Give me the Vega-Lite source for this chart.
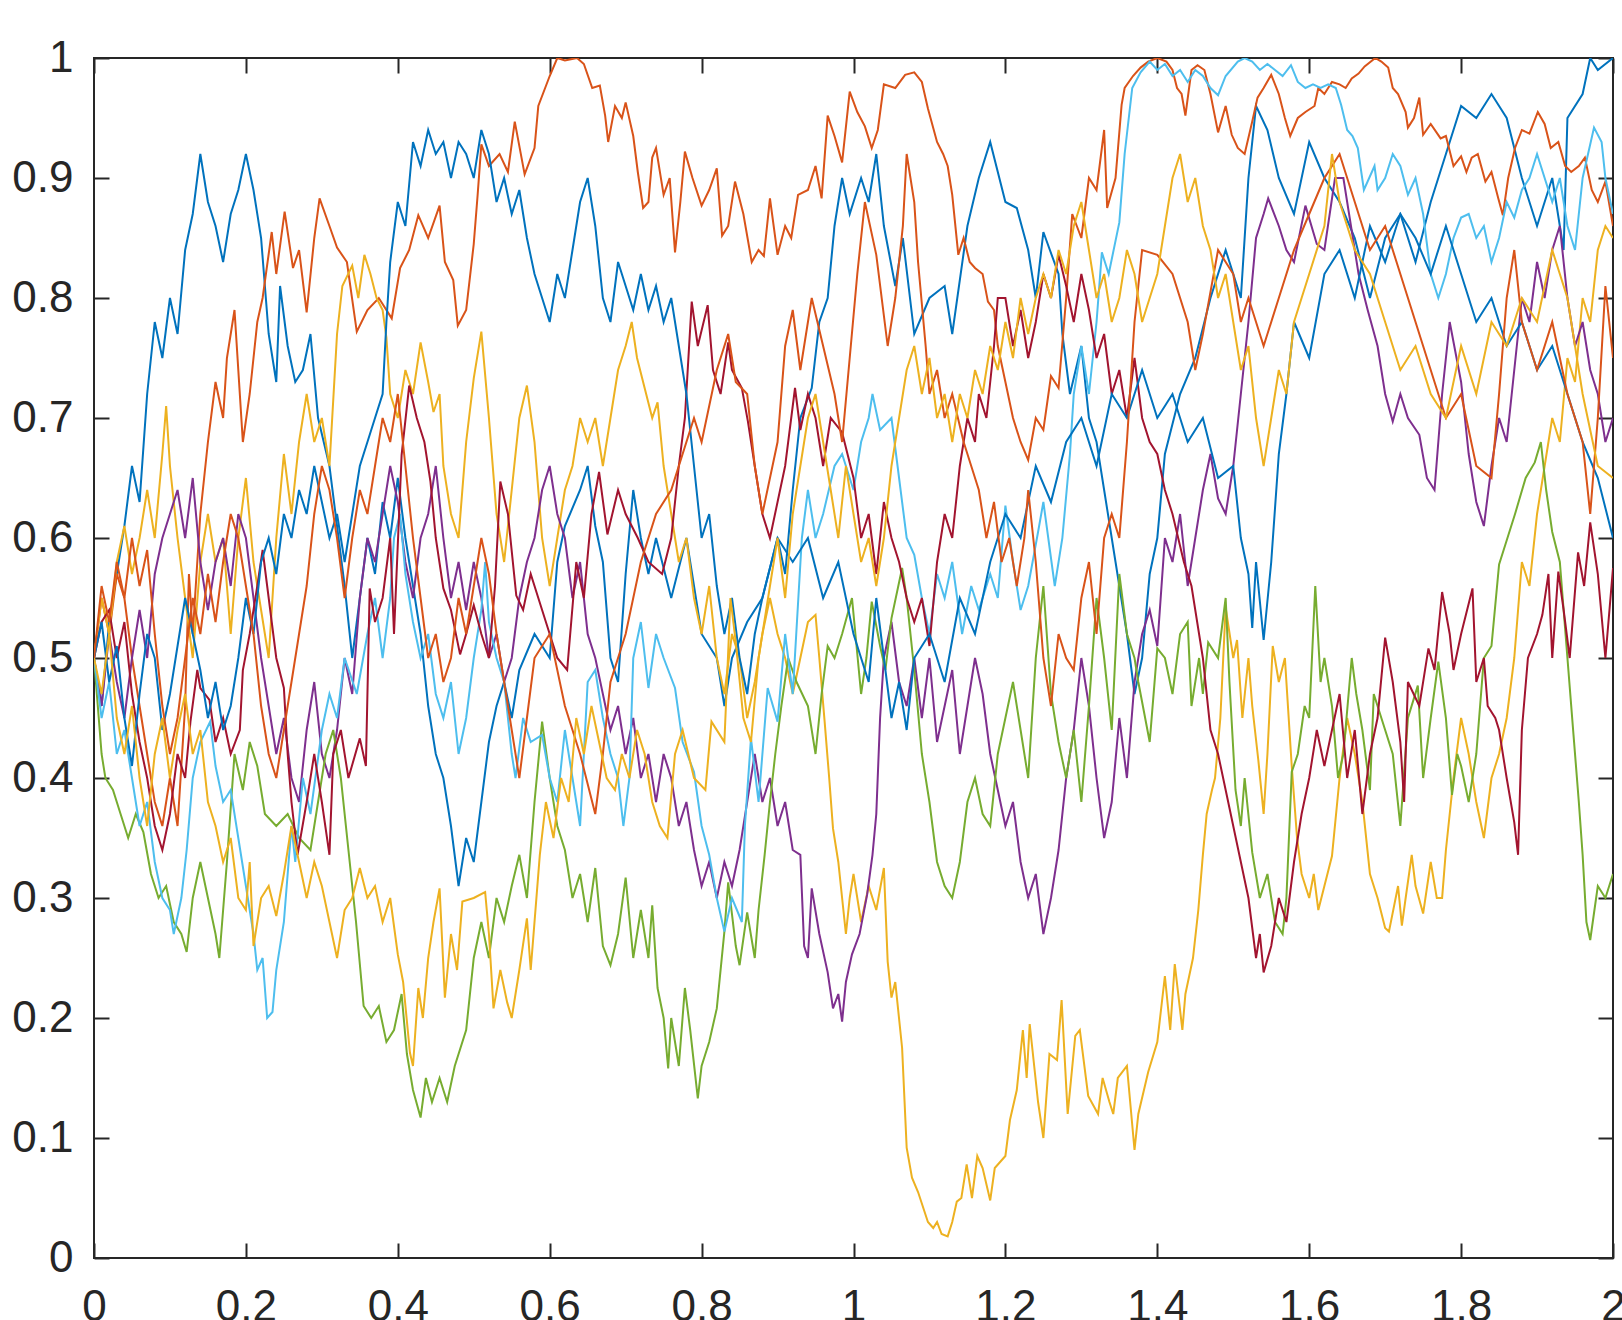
{
"$schema":"https://vega.github.io/schema/vega-lite/v6.json",
"width":1519,"height":1200,
"autosize":{"type":"none"},
"padding":{"left":94,"top":58,"right":9,"bottom":62},
"background":"white",
"config":{"view":{"stroke":"#262626","strokeWidth":2}},
"datasets":{"walks":[
{"k":1,"x":0,"y":0.5},{"k":1,"x":0.01,"y":0.46},{"k":1,"x":0.02,"y":0.53},{"k":1,"x":0.03,"y":0.57},{"k":1,"x":0.04,"y":0.61},{"k":1,"x":0.05,"y":0.66},{"k":1,"x":0.06,"y":0.63},{"k":1,"x":0.07,"y":0.72},{"k":1,"x":0.08,"y":0.78},{"k":1,"x":0.09,"y":0.75},{"k":1,"x":0.1,"y":0.8},{"k":1,"x":0.11,"y":0.77},{"k":1,"x":0.12,"y":0.84},{"k":1,"x":0.13,"y":0.87},{"k":1,"x":0.14,"y":0.92},{"k":1,"x":0.15,"y":0.88},{"k":1,"x":0.16,"y":0.86},{"k":1,"x":0.17,"y":0.83},{"k":1,"x":0.18,"y":0.87},{"k":1,"x":0.19,"y":0.89},{"k":1,"x":0.2,"y":0.92},{"k":1,"x":0.21,"y":0.89},{"k":1,"x":0.22,"y":0.85},{"k":1,"x":0.23,"y":0.77},{"k":1,"x":0.24,"y":0.73},{"k":1,"x":0.245,"y":0.81},{"k":1,"x":0.255,"y":0.76},{"k":1,"x":0.265,"y":0.73},{"k":1,"x":0.275,"y":0.74},{"k":1,"x":0.285,"y":0.77},{"k":1,"x":0.295,"y":0.7},{"k":1,"x":0.31,"y":0.66},{"k":1,"x":0.32,"y":0.61},{"k":1,"x":0.33,"y":0.56},{"k":1,"x":0.34,"y":0.5},{"k":1,"x":0.35,"y":0.55},{"k":1,"x":0.36,"y":0.6},{"k":1,"x":0.37,"y":0.57},{"k":1,"x":0.38,"y":0.63},{"k":1,"x":0.39,"y":0.6},{"k":1,"x":0.4,"y":0.65},{"k":1,"x":0.41,"y":0.6},{"k":1,"x":0.42,"y":0.56},{"k":1,"x":0.43,"y":0.52},{"k":1,"x":0.44,"y":0.46},{"k":1,"x":0.45,"y":0.42},{"k":1,"x":0.46,"y":0.4},{"k":1,"x":0.47,"y":0.36},{"k":1,"x":0.48,"y":0.31},{"k":1,"x":0.49,"y":0.35},{"k":1,"x":0.5,"y":0.33},{"k":1,"x":0.51,"y":0.38},{"k":1,"x":0.52,"y":0.43},{"k":1,"x":0.53,"y":0.46},{"k":1,"x":0.54,"y":0.48},{"k":1,"x":0.55,"y":0.45},{"k":1,"x":0.56,"y":0.49},{"k":1,"x":0.58,"y":0.52},{"k":1,"x":0.6,"y":0.5},{"k":1,"x":0.61,"y":0.58},{"k":1,"x":0.62,"y":0.61},{"k":1,"x":0.64,"y":0.64},{"k":1,"x":0.65,"y":0.66},{"k":1,"x":0.66,"y":0.61},{"k":1,"x":0.67,"y":0.58},{"k":1,"x":0.68,"y":0.5},{"k":1,"x":0.69,"y":0.48},{"k":1,"x":0.7,"y":0.57},{"k":1,"x":0.71,"y":0.64},{"k":1,"x":0.72,"y":0.6},{"k":1,"x":0.73,"y":0.57},{"k":1,"x":0.74,"y":0.6},{"k":1,"x":0.76,"y":0.55},{"k":1,"x":0.78,"y":0.6},{"k":1,"x":0.8,"y":0.52},{"k":1,"x":0.82,"y":0.5},{"k":1,"x":0.83,"y":0.46},{"k":1,"x":0.84,"y":0.5},{"k":1,"x":0.86,"y":0.53},{"k":1,"x":0.88,"y":0.55},{"k":1,"x":0.9,"y":0.6},{"k":1,"x":0.91,"y":0.57},{"k":1,"x":0.92,"y":0.64},{"k":1,"x":0.93,"y":0.7},{"k":1,"x":0.945,"y":0.725},{"k":1,"x":0.955,"y":0.78},{"k":1,"x":0.966,"y":0.8},{"k":1,"x":0.975,"y":0.86},{"k":1,"x":0.985,"y":0.9},{"k":1,"x":0.995,"y":0.87},{"k":1,"x":1.01,"y":0.9},{"k":1,"x":1.02,"y":0.88},{"k":1,"x":1.03,"y":0.92},{"k":1,"x":1.04,"y":0.86},{"k":1,"x":1.055,"y":0.81},{"k":1,"x":1.065,"y":0.85},{"k":1,"x":1.08,"y":0.77},{"k":1,"x":1.1,"y":0.8},{"k":1,"x":1.12,"y":0.81},{"k":1,"x":1.13,"y":0.77},{"k":1,"x":1.15,"y":0.86},{"k":1,"x":1.165,"y":0.9},{"k":1,"x":1.18,"y":0.93},{"k":1,"x":1.2,"y":0.88},{"k":1,"x":1.215,"y":0.875},{"k":1,"x":1.23,"y":0.84},{"k":1,"x":1.24,"y":0.8},{"k":1,"x":1.25,"y":0.855},{"k":1,"x":1.27,"y":0.82},{"k":1,"x":1.275,"y":0.77},{"k":1,"x":1.285,"y":0.72},{"k":1,"x":1.3,"y":0.76},{"k":1,"x":1.31,"y":0.7},{"k":1,"x":1.32,"y":0.68},{"k":1,"x":1.33,"y":0.64},{"k":1,"x":1.345,"y":0.58},{"k":1,"x":1.36,"y":0.52},{"k":1,"x":1.37,"y":0.47},{"k":1,"x":1.38,"y":0.5},{"k":1,"x":1.39,"y":0.57},{"k":1,"x":1.4,"y":0.6},{"k":1,"x":1.41,"y":0.67},{"k":1,"x":1.43,"y":0.72},{"k":1,"x":1.45,"y":0.75},{"k":1,"x":1.47,"y":0.8},{"k":1,"x":1.49,"y":0.84},{"k":1,"x":1.51,"y":0.8},{"k":1,"x":1.52,"y":0.9},{"k":1,"x":1.53,"y":0.96},{"k":1,"x":1.545,"y":0.94},{"k":1,"x":1.56,"y":0.9},{"k":1,"x":1.58,"y":0.87},{"k":1,"x":1.6,"y":0.93},{"k":1,"x":1.62,"y":0.9},{"k":1,"x":1.64,"y":0.88},{"k":1,"x":1.66,"y":0.85},{"k":1,"x":1.68,"y":0.8},{"k":1,"x":1.7,"y":0.85},{"k":1,"x":1.72,"y":0.87},{"k":1,"x":1.74,"y":0.83},{"k":1,"x":1.76,"y":0.88},{"k":1,"x":1.78,"y":0.92},{"k":1,"x":1.8,"y":0.96},{"k":1,"x":1.82,"y":0.95},{"k":1,"x":1.84,"y":0.97},{"k":1,"x":1.86,"y":0.95},{"k":1,"x":1.88,"y":0.9},{"k":1,"x":1.9,"y":0.86},{"k":1,"x":1.92,"y":0.9},{"k":1,"x":1.935,"y":0.84},{"k":1,"x":1.94,"y":0.95},{"k":1,"x":1.96,"y":0.97},{"k":1,"x":1.97,"y":1.0},{"k":1,"x":1.98,"y":0.99},{"k":1,"x":2.0,"y":1.0},
{"k":2,"x":0,"y":0.5},{"k":2,"x":0.01,"y":0.55},{"k":2,"x":0.02,"y":0.52},{"k":2,"x":0.03,"y":0.57},{"k":2,"x":0.04,"y":0.55},{"k":2,"x":0.05,"y":0.5},{"k":2,"x":0.06,"y":0.46},{"k":2,"x":0.07,"y":0.42},{"k":2,"x":0.08,"y":0.38},{"k":2,"x":0.09,"y":0.36},{"k":2,"x":0.1,"y":0.4},{"k":2,"x":0.11,"y":0.36},{"k":2,"x":0.12,"y":0.46},{"k":2,"x":0.125,"y":0.57},{"k":2,"x":0.13,"y":0.52},{"k":2,"x":0.14,"y":0.62},{"k":2,"x":0.15,"y":0.68},{"k":2,"x":0.16,"y":0.73},{"k":2,"x":0.17,"y":0.7},{"k":2,"x":0.175,"y":0.75},{"k":2,"x":0.185,"y":0.79},{"k":2,"x":0.196,"y":0.68},{"k":2,"x":0.205,"y":0.72},{"k":2,"x":0.215,"y":0.78},{"k":2,"x":0.222,"y":0.8},{"k":2,"x":0.234,"y":0.855},{"k":2,"x":0.24,"y":0.82},{"k":2,"x":0.251,"y":0.872},{"k":2,"x":0.262,"y":0.825},{"k":2,"x":0.27,"y":0.84},{"k":2,"x":0.28,"y":0.788},{"k":2,"x":0.29,"y":0.85},{"k":2,"x":0.297,"y":0.883},{"k":2,"x":0.31,"y":0.86},{"k":2,"x":0.32,"y":0.842},{"k":2,"x":0.333,"y":0.83},{"k":2,"x":0.346,"y":0.772},{"k":2,"x":0.36,"y":0.79},{"k":2,"x":0.375,"y":0.8},{"k":2,"x":0.392,"y":0.783},{"k":2,"x":0.403,"y":0.825},{"k":2,"x":0.415,"y":0.84},{"k":2,"x":0.427,"y":0.869},{"k":2,"x":0.44,"y":0.85},{"k":2,"x":0.455,"y":0.877},{"k":2,"x":0.462,"y":0.83},{"k":2,"x":0.473,"y":0.815},{"k":2,"x":0.479,"y":0.777},{"k":2,"x":0.49,"y":0.79},{"k":2,"x":0.5,"y":0.845},{"k":2,"x":0.505,"y":0.885},{"k":2,"x":0.51,"y":0.928},{"k":2,"x":0.52,"y":0.91},{"k":2,"x":0.534,"y":0.92},{"k":2,"x":0.545,"y":0.905},{"k":2,"x":0.554,"y":0.947},{"k":2,"x":0.567,"y":0.903},{"k":2,"x":0.58,"y":0.925},{"k":2,"x":0.585,"y":0.96},{"k":2,"x":0.6,"y":0.985},{"k":2,"x":0.61,"y":1.0},{"k":2,"x":0.62,"y":0.998},{"k":2,"x":0.636,"y":1.0},{"k":2,"x":0.645,"y":0.995},{"k":2,"x":0.656,"y":0.975},{"k":2,"x":0.666,"y":0.977},{"k":2,"x":0.673,"y":0.952},{"k":2,"x":0.677,"y":0.93},{"k":2,"x":0.686,"y":0.96},{"k":2,"x":0.695,"y":0.95},{"k":2,"x":0.7,"y":0.963},{"k":2,"x":0.71,"y":0.935},{"k":2,"x":0.716,"y":0.905},{"k":2,"x":0.723,"y":0.875},{"k":2,"x":0.73,"y":0.88},{"k":2,"x":0.735,"y":0.917},{"k":2,"x":0.74,"y":0.925},{"k":2,"x":0.75,"y":0.886},{"k":2,"x":0.758,"y":0.9},{"k":2,"x":0.765,"y":0.838},{"k":2,"x":0.772,"y":0.88},{"k":2,"x":0.778,"y":0.922},{"k":2,"x":0.788,"y":0.9},{"k":2,"x":0.8,"y":0.877},{"k":2,"x":0.81,"y":0.89},{"k":2,"x":0.82,"y":0.908},{"k":2,"x":0.827,"y":0.852},{"k":2,"x":0.835,"y":0.86},{"k":2,"x":0.844,"y":0.897},{"k":2,"x":0.855,"y":0.87},{"k":2,"x":0.866,"y":0.83},{"k":2,"x":0.875,"y":0.84},{"k":2,"x":0.882,"y":0.835},{"k":2,"x":0.89,"y":0.883},{"k":2,"x":0.9,"y":0.836},{"k":2,"x":0.91,"y":0.86},{"k":2,"x":0.918,"y":0.85},{"k":2,"x":0.927,"y":0.886},{"k":2,"x":0.94,"y":0.89},{"k":2,"x":0.95,"y":0.91},{"k":2,"x":0.958,"y":0.883},{"k":2,"x":0.966,"y":0.952},{"k":2,"x":0.975,"y":0.935},{"k":2,"x":0.985,"y":0.913},{"k":2,"x":0.995,"y":0.972},{"k":2,"x":1.005,"y":0.955},{"k":2,"x":1.015,"y":0.943},{"k":2,"x":1.024,"y":0.925},{"k":2,"x":1.032,"y":0.94},{"k":2,"x":1.04,"y":0.978},{"k":2,"x":1.055,"y":0.975},{"k":2,"x":1.068,"y":0.986},{"k":2,"x":1.08,"y":0.988},{"k":2,"x":1.09,"y":0.98},{"k":2,"x":1.098,"y":0.958},{"k":2,"x":1.11,"y":0.93},{"k":2,"x":1.118,"y":0.92},{"k":2,"x":1.124,"y":0.91},{"k":2,"x":1.13,"y":0.886},{"k":2,"x":1.138,"y":0.836},{"k":2,"x":1.145,"y":0.85},{"k":2,"x":1.153,"y":0.83},{"k":2,"x":1.16,"y":0.825},{"k":2,"x":1.17,"y":0.82},{"k":2,"x":1.177,"y":0.797},{"k":2,"x":1.185,"y":0.79},{"k":2,"x":1.19,"y":0.76},{"k":2,"x":1.2,"y":0.73},{"k":2,"x":1.21,"y":0.7},{"k":2,"x":1.22,"y":0.68},{"k":2,"x":1.23,"y":0.665},{"k":2,"x":1.24,"y":0.7},{"k":2,"x":1.25,"y":0.69},{"k":2,"x":1.26,"y":0.735},{"k":2,"x":1.27,"y":0.725},{"k":2,"x":1.28,"y":0.8},{"k":2,"x":1.288,"y":0.87},{"k":2,"x":1.3,"y":0.85},{"k":2,"x":1.31,"y":0.9},{"k":2,"x":1.32,"y":0.89},{"k":2,"x":1.33,"y":0.94},{"k":2,"x":1.334,"y":0.875},{"k":2,"x":1.345,"y":0.9},{"k":2,"x":1.353,"y":0.961},{"k":2,"x":1.357,"y":0.975},{"k":2,"x":1.368,"y":0.985},{"k":2,"x":1.378,"y":0.992},{"k":2,"x":1.388,"y":0.997},{"k":2,"x":1.4,"y":1.0},{"k":2,"x":1.412,"y":0.997},{"k":2,"x":1.42,"y":0.99},{"k":2,"x":1.426,"y":0.975},{"k":2,"x":1.432,"y":0.97},{"k":2,"x":1.437,"y":0.952},{"k":2,"x":1.445,"y":0.99},{"k":2,"x":1.453,"y":0.994},{"k":2,"x":1.462,"y":0.99},{"k":2,"x":1.47,"y":0.97},{"k":2,"x":1.48,"y":0.938},{"k":2,"x":1.49,"y":0.96},{"k":2,"x":1.498,"y":0.936},{"k":2,"x":1.506,"y":0.925},{"k":2,"x":1.515,"y":0.92},{"k":2,"x":1.525,"y":0.947},{"k":2,"x":1.532,"y":0.967},{"k":2,"x":1.54,"y":0.975},{"k":2,"x":1.55,"y":0.986},{"k":2,"x":1.56,"y":0.97},{"k":2,"x":1.568,"y":0.95},{"k":2,"x":1.575,"y":0.935},{"k":2,"x":1.585,"y":0.95},{"k":2,"x":1.595,"y":0.955},{"k":2,"x":1.607,"y":0.96},{"k":2,"x":1.612,"y":0.975},{"k":2,"x":1.62,"y":0.97},{"k":2,"x":1.63,"y":0.98},{"k":2,"x":1.64,"y":0.978},{"k":2,"x":1.648,"y":0.975},{"k":2,"x":1.656,"y":0.983},{"k":2,"x":1.665,"y":0.987},{"k":2,"x":1.673,"y":0.993},{"k":2,"x":1.687,"y":1.0},{"k":2,"x":1.695,"y":0.997},{"k":2,"x":1.704,"y":0.992},{"k":2,"x":1.71,"y":0.975},{"k":2,"x":1.717,"y":0.97},{"k":2,"x":1.727,"y":0.955},{"k":2,"x":1.73,"y":0.942},{"k":2,"x":1.738,"y":0.95},{"k":2,"x":1.745,"y":0.967},{"k":2,"x":1.75,"y":0.936},{"k":2,"x":1.76,"y":0.945},{"k":2,"x":1.773,"y":0.933},{"k":2,"x":1.78,"y":0.935},{"k":2,"x":1.79,"y":0.91},{"k":2,"x":1.8,"y":0.918},{"k":2,"x":1.807,"y":0.905},{"k":2,"x":1.814,"y":0.917},{"k":2,"x":1.822,"y":0.92},{"k":2,"x":1.832,"y":0.897},{"k":2,"x":1.84,"y":0.905},{"k":2,"x":1.849,"y":0.883},{"k":2,"x":1.855,"y":0.869},{"k":2,"x":1.862,"y":0.9},{"k":2,"x":1.871,"y":0.925},{"k":2,"x":1.88,"y":0.94},{"k":2,"x":1.89,"y":0.937},{"k":2,"x":1.901,"y":0.955},{"k":2,"x":1.91,"y":0.945},{"k":2,"x":1.918,"y":0.925},{"k":2,"x":1.928,"y":0.93},{"k":2,"x":1.937,"y":0.91},{"k":2,"x":1.945,"y":0.905},{"k":2,"x":1.955,"y":0.91},{"k":2,"x":1.963,"y":0.917},{"k":2,"x":1.972,"y":0.89},{"k":2,"x":1.98,"y":0.88},{"k":2,"x":1.99,"y":0.897},{"k":2,"x":2.0,"y":0.86},
{"k":3,"x":0,"y":0.5},{"k":3,"x":0.01,"y":0.55},{"k":3,"x":0.02,"y":0.52},{"k":3,"x":0.03,"y":0.58},{"k":3,"x":0.04,"y":0.61},{"k":3,"x":0.05,"y":0.57},{"k":3,"x":0.06,"y":0.6},{"k":3,"x":0.07,"y":0.64},{"k":3,"x":0.08,"y":0.6},{"k":3,"x":0.09,"y":0.67},{"k":3,"x":0.095,"y":0.71},{"k":3,"x":0.1,"y":0.66},{"k":3,"x":0.11,"y":0.6},{"k":3,"x":0.12,"y":0.55},{"k":3,"x":0.13,"y":0.5},{"k":3,"x":0.14,"y":0.58},{"k":3,"x":0.15,"y":0.62},{"k":3,"x":0.16,"y":0.58},{"k":3,"x":0.17,"y":0.6},{"k":3,"x":0.18,"y":0.52},{"k":3,"x":0.19,"y":0.6},{"k":3,"x":0.2,"y":0.65},{"k":3,"x":0.21,"y":0.58},{"k":3,"x":0.22,"y":0.54},{"k":3,"x":0.23,"y":0.5},{"k":3,"x":0.24,"y":0.6},{"k":3,"x":0.25,"y":0.67},{"k":3,"x":0.26,"y":0.62},{"k":3,"x":0.27,"y":0.68},{"k":3,"x":0.28,"y":0.72},{"k":3,"x":0.29,"y":0.68},{"k":3,"x":0.3,"y":0.7},{"k":3,"x":0.31,"y":0.66},{"k":3,"x":0.32,"y":0.77},{"k":3,"x":0.327,"y":0.81},{"k":3,"x":0.34,"y":0.827},{"k":3,"x":0.348,"y":0.8},{"k":3,"x":0.356,"y":0.836},{"k":3,"x":0.364,"y":0.82},{"k":3,"x":0.372,"y":0.8},{"k":3,"x":0.38,"y":0.79},{"k":3,"x":0.385,"y":0.767},{"k":3,"x":0.39,"y":0.72},{"k":3,"x":0.4,"y":0.7},{"k":3,"x":0.41,"y":0.74},{"k":3,"x":0.42,"y":0.72},{"k":3,"x":0.43,"y":0.763},{"k":3,"x":0.44,"y":0.73},{"k":3,"x":0.447,"y":0.705},{"k":3,"x":0.455,"y":0.72},{"k":3,"x":0.46,"y":0.66},{"k":3,"x":0.47,"y":0.62},{"k":3,"x":0.48,"y":0.6},{"k":3,"x":0.49,"y":0.68},{"k":3,"x":0.5,"y":0.733},{"k":3,"x":0.51,"y":0.772},{"k":3,"x":0.52,"y":0.7},{"k":3,"x":0.53,"y":0.62},{"k":3,"x":0.54,"y":0.58},{"k":3,"x":0.55,"y":0.64},{"k":3,"x":0.56,"y":0.7},{"k":3,"x":0.57,"y":0.727},{"k":3,"x":0.58,"y":0.68},{"k":3,"x":0.59,"y":0.6},{"k":3,"x":0.6,"y":0.56},{"k":3,"x":0.61,"y":0.6},{"k":3,"x":0.62,"y":0.64},{"k":3,"x":0.63,"y":0.66},{"k":3,"x":0.64,"y":0.7},{"k":3,"x":0.65,"y":0.68},{"k":3,"x":0.66,"y":0.7},{"k":3,"x":0.67,"y":0.66},{"k":3,"x":0.68,"y":0.7},{"k":3,"x":0.69,"y":0.74},{"k":3,"x":0.7,"y":0.76},{"k":3,"x":0.708,"y":0.78},{"k":3,"x":0.715,"y":0.75},{"k":3,"x":0.725,"y":0.725},{"k":3,"x":0.735,"y":0.7},{"k":3,"x":0.742,"y":0.713},{"k":3,"x":0.75,"y":0.66},{"k":3,"x":0.76,"y":0.62},{"k":3,"x":0.77,"y":0.58},{"k":3,"x":0.78,"y":0.6},{"k":3,"x":0.79,"y":0.55},{"k":3,"x":0.8,"y":0.52},{"k":3,"x":0.81,"y":0.56},{"k":3,"x":0.82,"y":0.5},{"k":3,"x":0.83,"y":0.47},{"k":3,"x":0.84,"y":0.52},{"k":3,"x":0.85,"y":0.5},{"k":3,"x":0.86,"y":0.45},{"k":3,"x":0.87,"y":0.48},{"k":3,"x":0.88,"y":0.52},{"k":3,"x":0.89,"y":0.55},{"k":3,"x":0.9,"y":0.52},{"k":3,"x":0.91,"y":0.5},{"k":3,"x":0.92,"y":0.47},{"k":3,"x":0.93,"y":0.5},{"k":3,"x":0.94,"y":0.53},{"k":3,"x":0.95,"y":0.536},{"k":3,"x":0.955,"y":0.5},{"k":3,"x":0.962,"y":0.447},{"k":3,"x":0.968,"y":0.4},{"k":3,"x":0.973,"y":0.358},{"k":3,"x":0.98,"y":0.33},{"k":3,"x":0.985,"y":0.3},{"k":3,"x":0.99,"y":0.27},{"k":3,"x":0.995,"y":0.3},{"k":3,"x":1.0,"y":0.32},{"k":3,"x":1.01,"y":0.28},{"k":3,"x":1.02,"y":0.31},{"k":3,"x":1.03,"y":0.29},{"k":3,"x":1.04,"y":0.325},{"k":3,"x":1.045,"y":0.247},{"k":3,"x":1.05,"y":0.217},{"k":3,"x":1.055,"y":0.23},{"k":3,"x":1.064,"y":0.175},{"k":3,"x":1.07,"y":0.092},{"k":3,"x":1.077,"y":0.067},{"k":3,"x":1.085,"y":0.055},{"k":3,"x":1.098,"y":0.03},{"k":3,"x":1.105,"y":0.025},{"k":3,"x":1.11,"y":0.03},{"k":3,"x":1.116,"y":0.02},{"k":3,"x":1.124,"y":0.018},{"k":3,"x":1.13,"y":0.03},{"k":3,"x":1.136,"y":0.047},{"k":3,"x":1.142,"y":0.05},{"k":3,"x":1.149,"y":0.078},{"k":3,"x":1.156,"y":0.05},{"k":3,"x":1.163,"y":0.085},{"k":3,"x":1.17,"y":0.075},{"k":3,"x":1.18,"y":0.048},{"k":3,"x":1.186,"y":0.075},{"k":3,"x":1.193,"y":0.08},{"k":3,"x":1.2,"y":0.085},{"k":3,"x":1.206,"y":0.115},{"k":3,"x":1.215,"y":0.14},{"k":3,"x":1.223,"y":0.19},{"k":3,"x":1.228,"y":0.15},{"k":3,"x":1.232,"y":0.195},{"k":3,"x":1.243,"y":0.13},{"k":3,"x":1.25,"y":0.1},{"k":3,"x":1.258,"y":0.17},{"k":3,"x":1.268,"y":0.165},{"k":3,"x":1.274,"y":0.215},{"k":3,"x":1.282,"y":0.12},{"k":3,"x":1.292,"y":0.185},{"k":3,"x":1.298,"y":0.19},{"k":3,"x":1.309,"y":0.135},{"k":3,"x":1.322,"y":0.12},{"k":3,"x":1.328,"y":0.15},{"k":3,"x":1.337,"y":0.13},{"k":3,"x":1.342,"y":0.12},{"k":3,"x":1.348,"y":0.15},{"k":3,"x":1.36,"y":0.16},{"k":3,"x":1.37,"y":0.09},{"k":3,"x":1.375,"y":0.12},{"k":3,"x":1.388,"y":0.155},{"k":3,"x":1.4,"y":0.18},{"k":3,"x":1.41,"y":0.235},{"k":3,"x":1.417,"y":0.19},{"k":3,"x":1.423,"y":0.245},{"k":3,"x":1.433,"y":0.19},{"k":3,"x":1.437,"y":0.22},{"k":3,"x":1.447,"y":0.25},{"k":3,"x":1.454,"y":0.29},{"k":3,"x":1.46,"y":0.336},{"k":3,"x":1.465,"y":0.37},{"k":3,"x":1.472,"y":0.39},{"k":3,"x":1.476,"y":0.4},{"k":3,"x":1.483,"y":0.45},{"k":3,"x":1.49,"y":0.542},{"k":3,"x":1.5,"y":0.5},{"k":3,"x":1.505,"y":0.515},{"k":3,"x":1.512,"y":0.45},{"k":3,"x":1.52,"y":0.5},{"k":3,"x":1.525,"y":0.46},{"k":3,"x":1.533,"y":0.415},{"k":3,"x":1.54,"y":0.37},{"k":3,"x":1.545,"y":0.42},{"k":3,"x":1.552,"y":0.51},{"k":3,"x":1.56,"y":0.48},{"k":3,"x":1.568,"y":0.5},{"k":3,"x":1.577,"y":0.41},{"k":3,"x":1.584,"y":0.35},{"k":3,"x":1.59,"y":0.32},{"k":3,"x":1.6,"y":0.3},{"k":3,"x":1.606,"y":0.32},{"k":3,"x":1.612,"y":0.29},{"k":3,"x":1.62,"y":0.31},{"k":3,"x":1.63,"y":0.335},{"k":3,"x":1.64,"y":0.4},{"k":3,"x":1.65,"y":0.45},{"k":3,"x":1.66,"y":0.42},{"k":3,"x":1.67,"y":0.38},{"k":3,"x":1.68,"y":0.32},{"k":3,"x":1.69,"y":0.3},{"k":3,"x":1.7,"y":0.275},{"k":3,"x":1.705,"y":0.272},{"k":3,"x":1.717,"y":0.31},{"k":3,"x":1.722,"y":0.277},{"k":3,"x":1.727,"y":0.3},{"k":3,"x":1.735,"y":0.336},{"k":3,"x":1.74,"y":0.31},{"k":3,"x":1.75,"y":0.287},{"k":3,"x":1.76,"y":0.33},{"k":3,"x":1.768,"y":0.3},{"k":3,"x":1.775,"y":0.3},{"k":3,"x":1.78,"y":0.34},{"k":3,"x":1.79,"y":0.4},{"k":3,"x":1.8,"y":0.45},{"k":3,"x":1.81,"y":0.42},{"k":3,"x":1.82,"y":0.38},{"k":3,"x":1.83,"y":0.35},{"k":3,"x":1.84,"y":0.4},{"k":3,"x":1.85,"y":0.42},{"k":3,"x":1.86,"y":0.45},{"k":3,"x":1.87,"y":0.5},{"k":3,"x":1.88,"y":0.58},{"k":3,"x":1.89,"y":0.56},{"k":3,"x":1.9,"y":0.62},{"k":3,"x":1.91,"y":0.66},{"k":3,"x":1.92,"y":0.7},{"k":3,"x":1.93,"y":0.68},{"k":3,"x":1.94,"y":0.75},{"k":3,"x":1.95,"y":0.73},{"k":3,"x":1.96,"y":0.8},{"k":3,"x":1.97,"y":0.78},{"k":3,"x":1.98,"y":0.84},{"k":3,"x":1.99,"y":0.86},{"k":3,"x":2.0,"y":0.85},
{"k":4,"x":0,"y":0.5},{"k":4,"x":0.01,"y":0.46},{"k":4,"x":0.02,"y":0.52},{"k":4,"x":0.03,"y":0.48},{"k":4,"x":0.04,"y":0.45},{"k":4,"x":0.05,"y":0.5},{"k":4,"x":0.06,"y":0.54},{"k":4,"x":0.07,"y":0.5},{"k":4,"x":0.08,"y":0.57},{"k":4,"x":0.09,"y":0.6},{"k":4,"x":0.1,"y":0.62},{"k":4,"x":0.11,"y":0.64},{"k":4,"x":0.12,"y":0.6},{"k":4,"x":0.13,"y":0.65},{"k":4,"x":0.14,"y":0.58},{"k":4,"x":0.15,"y":0.54},{"k":4,"x":0.16,"y":0.58},{"k":4,"x":0.17,"y":0.6},{"k":4,"x":0.18,"y":0.56},{"k":4,"x":0.19,"y":0.62},{"k":4,"x":0.2,"y":0.6},{"k":4,"x":0.21,"y":0.55},{"k":4,"x":0.22,"y":0.5},{"k":4,"x":0.23,"y":0.46},{"k":4,"x":0.24,"y":0.42},{"k":4,"x":0.25,"y":0.45},{"k":4,"x":0.26,"y":0.4},{"k":4,"x":0.27,"y":0.38},{"k":4,"x":0.28,"y":0.44},{"k":4,"x":0.29,"y":0.48},{"k":4,"x":0.3,"y":0.42},{"k":4,"x":0.31,"y":0.4},{"k":4,"x":0.32,"y":0.44},{"k":4,"x":0.33,"y":0.5},{"k":4,"x":0.34,"y":0.47},{"k":4,"x":0.35,"y":0.55},{"k":4,"x":0.36,"y":0.6},{"k":4,"x":0.37,"y":0.58},{"k":4,"x":0.38,"y":0.62},{"k":4,"x":0.39,"y":0.66},{"k":4,"x":0.4,"y":0.63},{"k":4,"x":0.41,"y":0.58},{"k":4,"x":0.42,"y":0.55},{"k":4,"x":0.43,"y":0.6},{"k":4,"x":0.44,"y":0.62},{"k":4,"x":0.45,"y":0.66},{"k":4,"x":0.46,"y":0.6},{"k":4,"x":0.47,"y":0.55},{"k":4,"x":0.48,"y":0.58},{"k":4,"x":0.49,"y":0.54},{"k":4,"x":0.5,"y":0.58},{"k":4,"x":0.51,"y":0.55},{"k":4,"x":0.52,"y":0.5},{"k":4,"x":0.53,"y":0.52},{"k":4,"x":0.54,"y":0.48},{"k":4,"x":0.55,"y":0.5},{"k":4,"x":0.56,"y":0.55},{"k":4,"x":0.57,"y":0.58},{"k":4,"x":0.58,"y":0.6},{"k":4,"x":0.59,"y":0.64},{"k":4,"x":0.6,"y":0.66},{"k":4,"x":0.61,"y":0.62},{"k":4,"x":0.62,"y":0.6},{"k":4,"x":0.63,"y":0.55},{"k":4,"x":0.64,"y":0.58},{"k":4,"x":0.65,"y":0.52},{"k":4,"x":0.66,"y":0.5},{"k":4,"x":0.67,"y":0.47},{"k":4,"x":0.68,"y":0.44},{"k":4,"x":0.69,"y":0.46},{"k":4,"x":0.7,"y":0.42},{"k":4,"x":0.71,"y":0.45},{"k":4,"x":0.72,"y":0.4},{"k":4,"x":0.73,"y":0.42},{"k":4,"x":0.74,"y":0.38},{"k":4,"x":0.75,"y":0.42},{"k":4,"x":0.76,"y":0.4},{"k":4,"x":0.77,"y":0.36},{"k":4,"x":0.78,"y":0.38},{"k":4,"x":0.79,"y":0.34},{"k":4,"x":0.8,"y":0.31},{"k":4,"x":0.81,"y":0.33},{"k":4,"x":0.82,"y":0.3},{"k":4,"x":0.83,"y":0.33},{"k":4,"x":0.84,"y":0.31},{"k":4,"x":0.85,"y":0.34},{"k":4,"x":0.86,"y":0.38},{"k":4,"x":0.87,"y":0.42},{"k":4,"x":0.88,"y":0.38},{"k":4,"x":0.89,"y":0.4},{"k":4,"x":0.9,"y":0.36},{"k":4,"x":0.91,"y":0.38},{"k":4,"x":0.92,"y":0.34},{"k":4,"x":0.93,"y":0.336},{"k":4,"x":0.935,"y":0.26},{"k":4,"x":0.94,"y":0.25},{"k":4,"x":0.945,"y":0.308},{"k":4,"x":0.955,"y":0.27},{"k":4,"x":0.966,"y":0.238},{"k":4,"x":0.973,"y":0.208},{"k":4,"x":0.98,"y":0.22},{"k":4,"x":0.985,"y":0.197},{"k":4,"x":0.99,"y":0.23},{"k":4,"x":0.998,"y":0.253},{"k":4,"x":1.008,"y":0.27},{"k":4,"x":1.018,"y":0.303},{"k":4,"x":1.025,"y":0.336},{"k":4,"x":1.03,"y":0.37},{"k":4,"x":1.035,"y":0.45},{"k":4,"x":1.04,"y":0.5},{"k":4,"x":1.05,"y":0.53},{"k":4,"x":1.06,"y":0.48},{"k":4,"x":1.07,"y":0.46},{"k":4,"x":1.08,"y":0.5},{"k":4,"x":1.09,"y":0.45},{"k":4,"x":1.1,"y":0.5},{"k":4,"x":1.11,"y":0.43},{"k":4,"x":1.12,"y":0.46},{"k":4,"x":1.13,"y":0.49},{"k":4,"x":1.14,"y":0.42},{"k":4,"x":1.15,"y":0.46},{"k":4,"x":1.16,"y":0.5},{"k":4,"x":1.17,"y":0.47},{"k":4,"x":1.18,"y":0.42},{"k":4,"x":1.19,"y":0.39},{"k":4,"x":1.2,"y":0.36},{"k":4,"x":1.21,"y":0.38},{"k":4,"x":1.22,"y":0.33},{"k":4,"x":1.23,"y":0.3},{"k":4,"x":1.24,"y":0.32},{"k":4,"x":1.25,"y":0.27},{"k":4,"x":1.26,"y":0.3},{"k":4,"x":1.27,"y":0.34},{"k":4,"x":1.28,"y":0.4},{"k":4,"x":1.29,"y":0.44},{"k":4,"x":1.3,"y":0.5},{"k":4,"x":1.31,"y":0.46},{"k":4,"x":1.32,"y":0.4},{"k":4,"x":1.33,"y":0.35},{"k":4,"x":1.34,"y":0.38},{"k":4,"x":1.35,"y":0.45},{"k":4,"x":1.36,"y":0.4},{"k":4,"x":1.37,"y":0.48},{"k":4,"x":1.38,"y":0.52},{"k":4,"x":1.39,"y":0.54},{"k":4,"x":1.4,"y":0.51},{"k":4,"x":1.41,"y":0.6},{"k":4,"x":1.42,"y":0.58},{"k":4,"x":1.43,"y":0.62},{"k":4,"x":1.44,"y":0.56},{"k":4,"x":1.45,"y":0.6},{"k":4,"x":1.46,"y":0.64},{"k":4,"x":1.47,"y":0.67},{"k":4,"x":1.48,"y":0.633},{"k":4,"x":1.49,"y":0.62},{"k":4,"x":1.5,"y":0.66},{"k":4,"x":1.51,"y":0.72},{"k":4,"x":1.52,"y":0.78},{"k":4,"x":1.53,"y":0.85},{"k":4,"x":1.54,"y":0.87},{"k":4,"x":1.546,"y":0.883},{"k":4,"x":1.56,"y":0.86},{"k":4,"x":1.57,"y":0.84},{"k":4,"x":1.58,"y":0.83},{"k":4,"x":1.595,"y":0.877},{"k":4,"x":1.61,"y":0.845},{"k":4,"x":1.62,"y":0.84},{"k":4,"x":1.634,"y":0.9},{"k":4,"x":1.645,"y":0.9},{"k":4,"x":1.655,"y":0.86},{"k":4,"x":1.665,"y":0.82},{"k":4,"x":1.677,"y":0.79},{"k":4,"x":1.69,"y":0.76},{"k":4,"x":1.7,"y":0.72},{"k":4,"x":1.71,"y":0.697},{"k":4,"x":1.72,"y":0.72},{"k":4,"x":1.73,"y":0.7},{"k":4,"x":1.745,"y":0.686},{"k":4,"x":1.755,"y":0.65},{"k":4,"x":1.765,"y":0.64},{"k":4,"x":1.775,"y":0.72},{"k":4,"x":1.785,"y":0.78},{"k":4,"x":1.8,"y":0.73},{"k":4,"x":1.81,"y":0.67},{"k":4,"x":1.82,"y":0.63},{"k":4,"x":1.83,"y":0.61},{"k":4,"x":1.84,"y":0.66},{"k":4,"x":1.85,"y":0.7},{"k":4,"x":1.86,"y":0.68},{"k":4,"x":1.87,"y":0.74},{"k":4,"x":1.88,"y":0.8},{"k":4,"x":1.89,"y":0.78},{"k":4,"x":1.9,"y":0.83},{"k":4,"x":1.91,"y":0.8},{"k":4,"x":1.92,"y":0.84},{"k":4,"x":1.93,"y":0.86},{"k":4,"x":1.94,"y":0.8},{"k":4,"x":1.95,"y":0.76},{"k":4,"x":1.96,"y":0.78},{"k":4,"x":1.97,"y":0.74},{"k":4,"x":1.98,"y":0.72},{"k":4,"x":1.99,"y":0.68},{"k":4,"x":2.0,"y":0.7},
{"k":5,"x":0,"y":0.5},{"k":5,"x":0.01,"y":0.42},{"k":5,"x":0.015,"y":0.4},{"k":5,"x":0.025,"y":0.39},{"k":5,"x":0.035,"y":0.37},{"k":5,"x":0.045,"y":0.35},{"k":5,"x":0.055,"y":0.37},{"k":5,"x":0.065,"y":0.355},{"k":5,"x":0.075,"y":0.32},{"k":5,"x":0.085,"y":0.3},{"k":5,"x":0.095,"y":0.31},{"k":5,"x":0.105,"y":0.28},{"k":5,"x":0.115,"y":0.27},{"k":5,"x":0.122,"y":0.255},{"k":5,"x":0.13,"y":0.3},{"k":5,"x":0.14,"y":0.33},{"k":5,"x":0.15,"y":0.3},{"k":5,"x":0.16,"y":0.27},{"k":5,"x":0.165,"y":0.25},{"k":5,"x":0.175,"y":0.33},{"k":5,"x":0.185,"y":0.42},{"k":5,"x":0.196,"y":0.39},{"k":5,"x":0.205,"y":0.43},{"k":5,"x":0.215,"y":0.41},{"k":5,"x":0.225,"y":0.37},{"k":5,"x":0.24,"y":0.36},{"k":5,"x":0.255,"y":0.37},{"k":5,"x":0.27,"y":0.35},{"k":5,"x":0.285,"y":0.34},{"k":5,"x":0.295,"y":0.38},{"k":5,"x":0.305,"y":0.42},{"k":5,"x":0.315,"y":0.44},{"k":5,"x":0.325,"y":0.4},{"k":5,"x":0.335,"y":0.34},{"k":5,"x":0.345,"y":0.28},{"k":5,"x":0.355,"y":0.21},{"k":5,"x":0.365,"y":0.2},{"k":5,"x":0.375,"y":0.21},{"k":5,"x":0.385,"y":0.18},{"k":5,"x":0.395,"y":0.19},{"k":5,"x":0.405,"y":0.22},{"k":5,"x":0.412,"y":0.17},{"k":5,"x":0.42,"y":0.14},{"k":5,"x":0.43,"y":0.117},{"k":5,"x":0.437,"y":0.15},{"k":5,"x":0.445,"y":0.13},{"k":5,"x":0.455,"y":0.15},{"k":5,"x":0.465,"y":0.13},{"k":5,"x":0.475,"y":0.16},{"k":5,"x":0.49,"y":0.19},{"k":5,"x":0.5,"y":0.25},{"k":5,"x":0.51,"y":0.28},{"k":5,"x":0.52,"y":0.25},{"k":5,"x":0.53,"y":0.3},{"k":5,"x":0.54,"y":0.28},{"k":5,"x":0.55,"y":0.31},{"k":5,"x":0.56,"y":0.336},{"k":5,"x":0.57,"y":0.3},{"k":5,"x":0.58,"y":0.38},{"k":5,"x":0.59,"y":0.447},{"k":5,"x":0.6,"y":0.4},{"k":5,"x":0.61,"y":0.36},{"k":5,"x":0.62,"y":0.34},{"k":5,"x":0.63,"y":0.3},{"k":5,"x":0.64,"y":0.32},{"k":5,"x":0.65,"y":0.28},{"k":5,"x":0.66,"y":0.325},{"k":5,"x":0.67,"y":0.26},{"k":5,"x":0.68,"y":0.244},{"k":5,"x":0.69,"y":0.27},{"k":5,"x":0.7,"y":0.317},{"k":5,"x":0.71,"y":0.25},{"k":5,"x":0.72,"y":0.29},{"k":5,"x":0.73,"y":0.25},{"k":5,"x":0.735,"y":0.294},{"k":5,"x":0.742,"y":0.225},{"k":5,"x":0.75,"y":0.2},{"k":5,"x":0.756,"y":0.158},{"k":5,"x":0.76,"y":0.2},{"k":5,"x":0.77,"y":0.16},{"k":5,"x":0.778,"y":0.225},{"k":5,"x":0.785,"y":0.19},{"k":5,"x":0.795,"y":0.133},{"k":5,"x":0.8,"y":0.16},{"k":5,"x":0.81,"y":0.18},{"k":5,"x":0.82,"y":0.208},{"k":5,"x":0.83,"y":0.272},{"k":5,"x":0.835,"y":0.313},{"k":5,"x":0.845,"y":0.26},{"k":5,"x":0.85,"y":0.244},{"k":5,"x":0.86,"y":0.288},{"k":5,"x":0.87,"y":0.25},{"k":5,"x":0.875,"y":0.29},{"k":5,"x":0.883,"y":0.336},{"k":5,"x":0.89,"y":0.38},{"k":5,"x":0.897,"y":0.42},{"k":5,"x":0.905,"y":0.46},{"k":5,"x":0.914,"y":0.5},{"k":5,"x":0.925,"y":0.48},{"k":5,"x":0.94,"y":0.46},{"k":5,"x":0.95,"y":0.42},{"k":5,"x":0.958,"y":0.47},{"k":5,"x":0.966,"y":0.51},{"k":5,"x":0.975,"y":0.5},{"k":5,"x":0.985,"y":0.52},{"k":5,"x":0.998,"y":0.55},{"k":5,"x":1.01,"y":0.47},{"k":5,"x":1.017,"y":0.5},{"k":5,"x":1.024,"y":0.547},{"k":5,"x":1.035,"y":0.51},{"k":5,"x":1.042,"y":0.49},{"k":5,"x":1.05,"y":0.533},{"k":5,"x":1.064,"y":0.575},{"k":5,"x":1.07,"y":0.55},{"k":5,"x":1.08,"y":0.49},{"k":5,"x":1.09,"y":0.42},{"k":5,"x":1.1,"y":0.38},{"k":5,"x":1.11,"y":0.33},{"k":5,"x":1.12,"y":0.31},{"k":5,"x":1.13,"y":0.3},{"k":5,"x":1.14,"y":0.33},{"k":5,"x":1.15,"y":0.38},{"k":5,"x":1.16,"y":0.4},{"k":5,"x":1.17,"y":0.37},{"k":5,"x":1.18,"y":0.36},{"k":5,"x":1.19,"y":0.42},{"k":5,"x":1.2,"y":0.45},{"k":5,"x":1.21,"y":0.48},{"k":5,"x":1.22,"y":0.44},{"k":5,"x":1.23,"y":0.4},{"k":5,"x":1.24,"y":0.5},{"k":5,"x":1.25,"y":0.56},{"k":5,"x":1.26,"y":0.47},{"k":5,"x":1.27,"y":0.43},{"k":5,"x":1.28,"y":0.4},{"k":5,"x":1.29,"y":0.44},{"k":5,"x":1.3,"y":0.38},{"k":5,"x":1.31,"y":0.46},{"k":5,"x":1.32,"y":0.55},{"k":5,"x":1.33,"y":0.5},{"k":5,"x":1.34,"y":0.44},{"k":5,"x":1.35,"y":0.57},{"k":5,"x":1.36,"y":0.52},{"k":5,"x":1.37,"y":0.5},{"k":5,"x":1.375,"y":0.48},{"k":5,"x":1.39,"y":0.43},{"k":5,"x":1.4,"y":0.508},{"k":5,"x":1.41,"y":0.5},{"k":5,"x":1.42,"y":0.47},{"k":5,"x":1.43,"y":0.52},{"k":5,"x":1.44,"y":0.53},{"k":5,"x":1.445,"y":0.46},{"k":5,"x":1.455,"y":0.5},{"k":5,"x":1.46,"y":0.47},{"k":5,"x":1.467,"y":0.513},{"k":5,"x":1.48,"y":0.5},{"k":5,"x":1.49,"y":0.55},{"k":5,"x":1.495,"y":0.48},{"k":5,"x":1.503,"y":0.39},{"k":5,"x":1.51,"y":0.36},{"k":5,"x":1.515,"y":0.4},{"k":5,"x":1.525,"y":0.338},{"k":5,"x":1.535,"y":0.3},{"k":5,"x":1.545,"y":0.32},{"k":5,"x":1.555,"y":0.28},{"k":5,"x":1.565,"y":0.27},{"k":5,"x":1.57,"y":0.3},{"k":5,"x":1.577,"y":0.405},{"k":5,"x":1.585,"y":0.42},{"k":5,"x":1.594,"y":0.46},{"k":5,"x":1.6,"y":0.45},{"k":5,"x":1.608,"y":0.56},{"k":5,"x":1.615,"y":0.48},{"k":5,"x":1.62,"y":0.5},{"k":5,"x":1.63,"y":0.46},{"k":5,"x":1.638,"y":0.4},{"k":5,"x":1.645,"y":0.42},{"k":5,"x":1.656,"y":0.5},{"k":5,"x":1.662,"y":0.47},{"k":5,"x":1.67,"y":0.44},{"k":5,"x":1.68,"y":0.39},{"k":5,"x":1.685,"y":0.47},{"k":5,"x":1.695,"y":0.45},{"k":5,"x":1.71,"y":0.42},{"k":5,"x":1.72,"y":0.36},{"k":5,"x":1.73,"y":0.45},{"k":5,"x":1.743,"y":0.477},{"k":5,"x":1.75,"y":0.4},{"k":5,"x":1.76,"y":0.45},{"k":5,"x":1.77,"y":0.497},{"k":5,"x":1.78,"y":0.45},{"k":5,"x":1.788,"y":0.386},{"k":5,"x":1.795,"y":0.42},{"k":5,"x":1.8,"y":0.41},{"k":5,"x":1.81,"y":0.38},{"k":5,"x":1.82,"y":0.42},{"k":5,"x":1.83,"y":0.5},{"k":5,"x":1.84,"y":0.51},{"k":5,"x":1.85,"y":0.578},{"k":5,"x":1.858,"y":0.594},{"k":5,"x":1.871,"y":0.62},{"k":5,"x":1.885,"y":0.65},{"k":5,"x":1.897,"y":0.663},{"k":5,"x":1.905,"y":0.68},{"k":5,"x":1.912,"y":0.64},{"k":5,"x":1.92,"y":0.605},{"k":5,"x":1.93,"y":0.58},{"k":5,"x":1.94,"y":0.5},{"k":5,"x":1.948,"y":0.436},{"k":5,"x":1.955,"y":0.38},{"k":5,"x":1.96,"y":0.336},{"k":5,"x":1.965,"y":0.28},{"k":5,"x":1.97,"y":0.265},{"k":5,"x":1.98,"y":0.31},{"k":5,"x":1.99,"y":0.3},{"k":5,"x":2.0,"y":0.32},
{"k":6,"x":0,"y":0.5},{"k":6,"x":0.01,"y":0.45},{"k":6,"x":0.02,"y":0.48},{"k":6,"x":0.03,"y":0.42},{"k":6,"x":0.04,"y":0.44},{"k":6,"x":0.05,"y":0.4},{"k":6,"x":0.06,"y":0.36},{"k":6,"x":0.07,"y":0.38},{"k":6,"x":0.08,"y":0.33},{"k":6,"x":0.09,"y":0.3},{"k":6,"x":0.1,"y":0.29},{"k":6,"x":0.105,"y":0.27},{"k":6,"x":0.115,"y":0.3},{"k":6,"x":0.122,"y":0.34},{"k":6,"x":0.13,"y":0.4},{"k":6,"x":0.14,"y":0.43},{"k":6,"x":0.153,"y":0.447},{"k":6,"x":0.16,"y":0.41},{"k":6,"x":0.17,"y":0.38},{"k":6,"x":0.18,"y":0.39},{"k":6,"x":0.19,"y":0.35},{"k":6,"x":0.2,"y":0.31},{"k":6,"x":0.21,"y":0.27},{"k":6,"x":0.215,"y":0.24},{"k":6,"x":0.222,"y":0.25},{"k":6,"x":0.228,"y":0.2},{"k":6,"x":0.235,"y":0.205},{"k":6,"x":0.24,"y":0.24},{"k":6,"x":0.25,"y":0.28},{"k":6,"x":0.26,"y":0.36},{"k":6,"x":0.265,"y":0.33},{"k":6,"x":0.275,"y":0.4},{"k":6,"x":0.285,"y":0.37},{"k":6,"x":0.3,"y":0.44},{"k":6,"x":0.31,"y":0.47},{"k":6,"x":0.32,"y":0.45},{"k":6,"x":0.33,"y":0.5},{"k":6,"x":0.346,"y":0.47},{"k":6,"x":0.36,"y":0.52},{"k":6,"x":0.37,"y":0.55},{"k":6,"x":0.38,"y":0.5},{"k":6,"x":0.39,"y":0.55},{"k":6,"x":0.395,"y":0.6},{"k":6,"x":0.403,"y":0.62},{"k":6,"x":0.41,"y":0.57},{"k":6,"x":0.42,"y":0.53},{"k":6,"x":0.43,"y":0.5},{"k":6,"x":0.44,"y":0.52},{"k":6,"x":0.45,"y":0.47},{"k":6,"x":0.46,"y":0.45},{"k":6,"x":0.47,"y":0.48},{"k":6,"x":0.48,"y":0.42},{"k":6,"x":0.49,"y":0.45},{"k":6,"x":0.5,"y":0.5},{"k":6,"x":0.51,"y":0.54},{"k":6,"x":0.515,"y":0.58},{"k":6,"x":0.52,"y":0.53},{"k":6,"x":0.53,"y":0.5},{"k":6,"x":0.54,"y":0.48},{"k":6,"x":0.55,"y":0.42},{"k":6,"x":0.555,"y":0.4},{"k":6,"x":0.565,"y":0.45},{"k":6,"x":0.575,"y":0.43},{"k":6,"x":0.59,"y":0.436},{"k":6,"x":0.6,"y":0.4},{"k":6,"x":0.61,"y":0.38},{"k":6,"x":0.62,"y":0.44},{"k":6,"x":0.63,"y":0.4},{"k":6,"x":0.64,"y":0.36},{"k":6,"x":0.65,"y":0.48},{"k":6,"x":0.66,"y":0.49},{"k":6,"x":0.67,"y":0.45},{"k":6,"x":0.68,"y":0.42},{"k":6,"x":0.69,"y":0.4},{"k":6,"x":0.697,"y":0.36},{"k":6,"x":0.705,"y":0.4},{"k":6,"x":0.71,"y":0.5},{"k":6,"x":0.72,"y":0.53},{"k":6,"x":0.73,"y":0.475},{"k":6,"x":0.74,"y":0.52},{"k":6,"x":0.75,"y":0.5},{"k":6,"x":0.765,"y":0.475},{"k":6,"x":0.775,"y":0.43},{"k":6,"x":0.79,"y":0.405},{"k":6,"x":0.8,"y":0.36},{"k":6,"x":0.81,"y":0.336},{"k":6,"x":0.82,"y":0.3},{"k":6,"x":0.83,"y":0.272},{"k":6,"x":0.84,"y":0.3},{"k":6,"x":0.853,"y":0.28},{"k":6,"x":0.857,"y":0.36},{"k":6,"x":0.865,"y":0.433},{"k":6,"x":0.875,"y":0.38},{"k":6,"x":0.887,"y":0.475},{"k":6,"x":0.9,"y":0.447},{"k":6,"x":0.91,"y":0.52},{"k":6,"x":0.92,"y":0.47},{"k":6,"x":0.932,"y":0.6},{"k":6,"x":0.94,"y":0.64},{"k":6,"x":0.95,"y":0.6},{"k":6,"x":0.96,"y":0.62},{"k":6,"x":0.975,"y":0.66},{"k":6,"x":0.985,"y":0.67},{"k":6,"x":1.0,"y":0.64},{"k":6,"x":1.01,"y":0.68},{"k":6,"x":1.02,"y":0.7},{"k":6,"x":1.025,"y":0.72},{"k":6,"x":1.035,"y":0.69},{"k":6,"x":1.05,"y":0.7},{"k":6,"x":1.058,"y":0.66},{"k":6,"x":1.07,"y":0.6},{"k":6,"x":1.08,"y":0.586},{"k":6,"x":1.09,"y":0.55},{"k":6,"x":1.1,"y":0.52},{"k":6,"x":1.11,"y":0.57},{"k":6,"x":1.12,"y":0.55},{"k":6,"x":1.13,"y":0.58},{"k":6,"x":1.143,"y":0.52},{"k":6,"x":1.155,"y":0.56},{"k":6,"x":1.165,"y":0.54},{"k":6,"x":1.18,"y":0.57},{"k":6,"x":1.19,"y":0.55},{"k":6,"x":1.2,"y":0.627},{"k":6,"x":1.21,"y":0.58},{"k":6,"x":1.22,"y":0.54},{"k":6,"x":1.23,"y":0.56},{"k":6,"x":1.243,"y":0.605},{"k":6,"x":1.25,"y":0.63},{"k":6,"x":1.265,"y":0.56},{"k":6,"x":1.275,"y":0.6},{"k":6,"x":1.285,"y":0.67},{"k":6,"x":1.29,"y":0.72},{"k":6,"x":1.3,"y":0.76},{"k":6,"x":1.31,"y":0.72},{"k":6,"x":1.32,"y":0.78},{"k":6,"x":1.327,"y":0.838},{"k":6,"x":1.336,"y":0.82},{"k":6,"x":1.35,"y":0.863},{"k":6,"x":1.357,"y":0.92},{"k":6,"x":1.367,"y":0.975},{"k":6,"x":1.378,"y":0.988},{"k":6,"x":1.39,"y":0.997},{"k":6,"x":1.4,"y":0.99},{"k":6,"x":1.41,"y":0.995},{"k":6,"x":1.42,"y":0.985},{"k":6,"x":1.43,"y":0.99},{"k":6,"x":1.44,"y":0.98},{"k":6,"x":1.45,"y":0.99},{"k":6,"x":1.46,"y":0.985},{"k":6,"x":1.47,"y":0.975},{"k":6,"x":1.48,"y":0.969},{"k":6,"x":1.49,"y":0.985},{"k":6,"x":1.506,"y":0.997},{"k":6,"x":1.515,"y":1.0},{"k":6,"x":1.525,"y":0.997},{"k":6,"x":1.535,"y":0.99},{"k":6,"x":1.545,"y":0.995},{"k":6,"x":1.555,"y":0.99},{"k":6,"x":1.565,"y":0.985},{"k":6,"x":1.576,"y":0.994},{"k":6,"x":1.585,"y":0.98},{"k":6,"x":1.595,"y":0.975},{"k":6,"x":1.605,"y":0.978},{"k":6,"x":1.615,"y":0.975},{"k":6,"x":1.625,"y":0.978},{"k":6,"x":1.635,"y":0.975},{"k":6,"x":1.642,"y":0.961},{"k":6,"x":1.65,"y":0.94},{"k":6,"x":1.657,"y":0.935},{"k":6,"x":1.664,"y":0.925},{"k":6,"x":1.672,"y":0.89},{"k":6,"x":1.686,"y":0.91},{"k":6,"x":1.69,"y":0.89},{"k":6,"x":1.7,"y":0.9},{"k":6,"x":1.71,"y":0.92},{"k":6,"x":1.72,"y":0.91},{"k":6,"x":1.73,"y":0.886},{"k":6,"x":1.74,"y":0.9},{"k":6,"x":1.75,"y":0.87},{"k":6,"x":1.76,"y":0.82},{"k":6,"x":1.77,"y":0.8},{"k":6,"x":1.78,"y":0.82},{"k":6,"x":1.79,"y":0.85},{"k":6,"x":1.8,"y":0.867},{"k":6,"x":1.81,"y":0.87},{"k":6,"x":1.82,"y":0.85},{"k":6,"x":1.83,"y":0.86},{"k":6,"x":1.84,"y":0.83},{"k":6,"x":1.85,"y":0.85},{"k":6,"x":1.86,"y":0.88},{"k":6,"x":1.87,"y":0.867},{"k":6,"x":1.88,"y":0.89},{"k":6,"x":1.89,"y":0.9},{"k":6,"x":1.9,"y":0.92},{"k":6,"x":1.91,"y":0.9},{"k":6,"x":1.92,"y":0.88},{"k":6,"x":1.93,"y":0.9},{"k":6,"x":1.94,"y":0.86},{"k":6,"x":1.95,"y":0.84},{"k":6,"x":1.96,"y":0.9},{"k":6,"x":1.975,"y":0.942},{"k":6,"x":1.985,"y":0.93},{"k":6,"x":1.99,"y":0.9},{"k":6,"x":2.0,"y":0.87},
{"k":7,"x":0,"y":0.5},{"k":7,"x":0.01,"y":0.53},{"k":7,"x":0.02,"y":0.54},{"k":7,"x":0.03,"y":0.5},{"k":7,"x":0.04,"y":0.53},{"k":7,"x":0.05,"y":0.47},{"k":7,"x":0.06,"y":0.43},{"k":7,"x":0.07,"y":0.4},{"k":7,"x":0.08,"y":0.36},{"k":7,"x":0.09,"y":0.34},{"k":7,"x":0.1,"y":0.37},{"k":7,"x":0.11,"y":0.42},{"k":7,"x":0.12,"y":0.4},{"k":7,"x":0.127,"y":0.447},{"k":7,"x":0.136,"y":0.49},{"k":7,"x":0.14,"y":0.475},{"k":7,"x":0.152,"y":0.465},{"k":7,"x":0.16,"y":0.43},{"k":7,"x":0.17,"y":0.45},{"k":7,"x":0.18,"y":0.42},{"k":7,"x":0.192,"y":0.44},{"k":7,"x":0.196,"y":0.49},{"k":7,"x":0.205,"y":0.52},{"k":7,"x":0.215,"y":0.56},{"k":7,"x":0.222,"y":0.59},{"k":7,"x":0.23,"y":0.55},{"k":7,"x":0.24,"y":0.5},{"k":7,"x":0.25,"y":0.475},{"k":7,"x":0.255,"y":0.42},{"k":7,"x":0.26,"y":0.38},{"k":7,"x":0.268,"y":0.336},{"k":7,"x":0.28,"y":0.38},{"k":7,"x":0.29,"y":0.42},{"k":7,"x":0.3,"y":0.38},{"k":7,"x":0.31,"y":0.336},{"k":7,"x":0.315,"y":0.42},{"k":7,"x":0.325,"y":0.44},{"k":7,"x":0.335,"y":0.4},{"k":7,"x":0.35,"y":0.433},{"k":7,"x":0.358,"y":0.41},{"k":7,"x":0.363,"y":0.558},{"k":7,"x":0.37,"y":0.53},{"k":7,"x":0.38,"y":0.55},{"k":7,"x":0.39,"y":0.6},{"k":7,"x":0.395,"y":0.52},{"k":7,"x":0.405,"y":0.669},{"k":7,"x":0.415,"y":0.727},{"k":7,"x":0.425,"y":0.7},{"k":7,"x":0.435,"y":0.68},{"k":7,"x":0.443,"y":0.647},{"k":7,"x":0.45,"y":0.6},{"k":7,"x":0.46,"y":0.558},{"k":7,"x":0.47,"y":0.54},{"k":7,"x":0.482,"y":0.503},{"k":7,"x":0.49,"y":0.52},{"k":7,"x":0.5,"y":0.544},{"k":7,"x":0.51,"y":0.52},{"k":7,"x":0.52,"y":0.5},{"k":7,"x":0.528,"y":0.56},{"k":7,"x":0.535,"y":0.647},{"k":7,"x":0.545,"y":0.62},{"k":7,"x":0.556,"y":0.552},{"k":7,"x":0.565,"y":0.54},{"k":7,"x":0.575,"y":0.57},{"k":7,"x":0.59,"y":0.54},{"k":7,"x":0.6,"y":0.52},{"k":7,"x":0.61,"y":0.5},{"k":7,"x":0.623,"y":0.49},{"k":7,"x":0.635,"y":0.58},{"k":7,"x":0.645,"y":0.55},{"k":7,"x":0.655,"y":0.62},{"k":7,"x":0.665,"y":0.655},{"k":7,"x":0.676,"y":0.603},{"k":7,"x":0.69,"y":0.64},{"k":7,"x":0.7,"y":0.62},{"k":7,"x":0.716,"y":0.6},{"k":7,"x":0.73,"y":0.58},{"k":7,"x":0.748,"y":0.57},{"k":7,"x":0.76,"y":0.6},{"k":7,"x":0.77,"y":0.66},{"k":7,"x":0.778,"y":0.7},{"k":7,"x":0.787,"y":0.797},{"k":7,"x":0.795,"y":0.76},{"k":7,"x":0.808,"y":0.794},{"k":7,"x":0.815,"y":0.74},{"k":7,"x":0.825,"y":0.72},{"k":7,"x":0.835,"y":0.763},{"k":7,"x":0.84,"y":0.74},{"k":7,"x":0.853,"y":0.725},{"k":7,"x":0.861,"y":0.697},{"k":7,"x":0.87,"y":0.66},{"k":7,"x":0.88,"y":0.62},{"k":7,"x":0.89,"y":0.6},{"k":7,"x":0.9,"y":0.63},{"k":7,"x":0.91,"y":0.66},{"k":7,"x":0.923,"y":0.725},{"k":7,"x":0.93,"y":0.69},{"k":7,"x":0.94,"y":0.72},{"k":7,"x":0.95,"y":0.7},{"k":7,"x":0.96,"y":0.66},{"k":7,"x":0.97,"y":0.7},{"k":7,"x":0.985,"y":0.688},{"k":7,"x":1.0,"y":0.65},{"k":7,"x":1.01,"y":0.6},{"k":7,"x":1.02,"y":0.62},{"k":7,"x":1.03,"y":0.57},{"k":7,"x":1.04,"y":0.63},{"k":7,"x":1.05,"y":0.6},{"k":7,"x":1.06,"y":0.58},{"k":7,"x":1.07,"y":0.55},{"k":7,"x":1.08,"y":0.53},{"k":7,"x":1.09,"y":0.55},{"k":7,"x":1.1,"y":0.51},{"k":7,"x":1.11,"y":0.58},{"k":7,"x":1.12,"y":0.62},{"k":7,"x":1.13,"y":0.6},{"k":7,"x":1.14,"y":0.66},{"k":7,"x":1.15,"y":0.7},{"k":7,"x":1.16,"y":0.68},{"k":7,"x":1.165,"y":0.72},{"k":7,"x":1.175,"y":0.7},{"k":7,"x":1.185,"y":0.76},{"k":7,"x":1.19,"y":0.8},{"k":7,"x":1.2,"y":0.8},{"k":7,"x":1.21,"y":0.76},{"k":7,"x":1.22,"y":0.79},{"k":7,"x":1.23,"y":0.75},{"k":7,"x":1.24,"y":0.78},{"k":7,"x":1.25,"y":0.82},{"k":7,"x":1.26,"y":0.8},{"k":7,"x":1.27,"y":0.836},{"k":7,"x":1.28,"y":0.81},{"k":7,"x":1.29,"y":0.78},{"k":7,"x":1.3,"y":0.82},{"k":7,"x":1.31,"y":0.79},{"k":7,"x":1.32,"y":0.75},{"k":7,"x":1.33,"y":0.77},{"k":7,"x":1.34,"y":0.72},{"k":7,"x":1.35,"y":0.74},{"k":7,"x":1.36,"y":0.7},{"k":7,"x":1.37,"y":0.75},{"k":7,"x":1.38,"y":0.7},{"k":7,"x":1.39,"y":0.68},{"k":7,"x":1.4,"y":0.67},{"k":7,"x":1.41,"y":0.64},{"k":7,"x":1.42,"y":0.62},{"k":7,"x":1.435,"y":0.58},{"k":7,"x":1.445,"y":0.56},{"k":7,"x":1.455,"y":0.52},{"k":7,"x":1.46,"y":0.5},{"k":7,"x":1.47,"y":0.44},{"k":7,"x":1.48,"y":0.42},{"k":7,"x":1.49,"y":0.39},{"k":7,"x":1.5,"y":0.36},{"k":7,"x":1.51,"y":0.33},{"k":7,"x":1.52,"y":0.3},{"k":7,"x":1.53,"y":0.25},{"k":7,"x":1.535,"y":0.27},{"k":7,"x":1.54,"y":0.238},{"k":7,"x":1.55,"y":0.26},{"k":7,"x":1.56,"y":0.3},{"k":7,"x":1.57,"y":0.28},{"k":7,"x":1.58,"y":0.33},{"k":7,"x":1.59,"y":0.37},{"k":7,"x":1.6,"y":0.4},{"k":7,"x":1.61,"y":0.44},{"k":7,"x":1.62,"y":0.41},{"k":7,"x":1.63,"y":0.44},{"k":7,"x":1.64,"y":0.47},{"k":7,"x":1.65,"y":0.4},{"k":7,"x":1.66,"y":0.44},{"k":7,"x":1.67,"y":0.37},{"k":7,"x":1.68,"y":0.42},{"k":7,"x":1.69,"y":0.45},{"k":7,"x":1.7,"y":0.517},{"k":7,"x":1.71,"y":0.48},{"k":7,"x":1.72,"y":0.43},{"k":7,"x":1.725,"y":0.38},{"k":7,"x":1.73,"y":0.48},{"k":7,"x":1.745,"y":0.46},{"k":7,"x":1.757,"y":0.508},{"k":7,"x":1.765,"y":0.49},{"k":7,"x":1.775,"y":0.555},{"k":7,"x":1.785,"y":0.52},{"k":7,"x":1.79,"y":0.49},{"k":7,"x":1.8,"y":0.52},{"k":7,"x":1.815,"y":0.558},{"k":7,"x":1.82,"y":0.48},{"k":7,"x":1.83,"y":0.5},{"k":7,"x":1.835,"y":0.46},{"k":7,"x":1.845,"y":0.45},{"k":7,"x":1.85,"y":0.44},{"k":7,"x":1.86,"y":0.4},{"k":7,"x":1.87,"y":0.363},{"k":7,"x":1.875,"y":0.336},{"k":7,"x":1.88,"y":0.44},{"k":7,"x":1.888,"y":0.5},{"k":7,"x":1.9,"y":0.52},{"k":7,"x":1.907,"y":0.536},{"k":7,"x":1.915,"y":0.57},{"k":7,"x":1.92,"y":0.5},{"k":7,"x":1.928,"y":0.572},{"k":7,"x":1.935,"y":0.54},{"k":7,"x":1.943,"y":0.5},{"k":7,"x":1.954,"y":0.588},{"k":7,"x":1.962,"y":0.56},{"k":7,"x":1.97,"y":0.613},{"k":7,"x":1.98,"y":0.57},{"k":7,"x":1.99,"y":0.5},{"k":7,"x":2.0,"y":0.575},
{"k":8,"x":0,"y":0.5},{"k":8,"x":0.01,"y":0.53},{"k":8,"x":0.02,"y":0.48},{"k":8,"x":0.03,"y":0.51},{"k":8,"x":0.04,"y":0.45},{"k":8,"x":0.05,"y":0.41},{"k":8,"x":0.06,"y":0.47},{"k":8,"x":0.07,"y":0.52},{"k":8,"x":0.08,"y":0.5},{"k":8,"x":0.09,"y":0.44},{"k":8,"x":0.1,"y":0.47},{"k":8,"x":0.11,"y":0.51},{"k":8,"x":0.12,"y":0.55},{"k":8,"x":0.13,"y":0.52},{"k":8,"x":0.14,"y":0.49},{"k":8,"x":0.15,"y":0.45},{"k":8,"x":0.16,"y":0.48},{"k":8,"x":0.17,"y":0.44},{"k":8,"x":0.18,"y":0.46},{"k":8,"x":0.19,"y":0.5},{"k":8,"x":0.2,"y":0.55},{"k":8,"x":0.21,"y":0.52},{"k":8,"x":0.22,"y":0.58},{"k":8,"x":0.23,"y":0.6},{"k":8,"x":0.24,"y":0.57},{"k":8,"x":0.25,"y":0.62},{"k":8,"x":0.26,"y":0.6},{"k":8,"x":0.27,"y":0.64},{"k":8,"x":0.28,"y":0.62},{"k":8,"x":0.29,"y":0.66},{"k":8,"x":0.3,"y":0.63},{"k":8,"x":0.31,"y":0.6},{"k":8,"x":0.32,"y":0.62},{"k":8,"x":0.33,"y":0.58},{"k":8,"x":0.34,"y":0.62},{"k":8,"x":0.35,"y":0.66},{"k":8,"x":0.36,"y":0.68},{"k":8,"x":0.37,"y":0.7},{"k":8,"x":0.38,"y":0.72},{"k":8,"x":0.385,"y":0.78},{"k":8,"x":0.39,"y":0.83},{"k":8,"x":0.4,"y":0.88},{"k":8,"x":0.41,"y":0.86},{"k":8,"x":0.42,"y":0.93},{"k":8,"x":0.43,"y":0.91},{"k":8,"x":0.44,"y":0.94},{"k":8,"x":0.45,"y":0.92},{"k":8,"x":0.46,"y":0.93},{"k":8,"x":0.47,"y":0.9},{"k":8,"x":0.48,"y":0.93},{"k":8,"x":0.49,"y":0.92},{"k":8,"x":0.5,"y":0.9},{"k":8,"x":0.51,"y":0.94},{"k":8,"x":0.52,"y":0.92},{"k":8,"x":0.53,"y":0.88},{"k":8,"x":0.54,"y":0.9},{"k":8,"x":0.55,"y":0.87},{"k":8,"x":0.56,"y":0.89},{"k":8,"x":0.57,"y":0.85},{"k":8,"x":0.58,"y":0.82},{"k":8,"x":0.59,"y":0.8},{"k":8,"x":0.6,"y":0.78},{"k":8,"x":0.61,"y":0.82},{"k":8,"x":0.62,"y":0.8},{"k":8,"x":0.63,"y":0.84},{"k":8,"x":0.64,"y":0.88},{"k":8,"x":0.65,"y":0.9},{"k":8,"x":0.66,"y":0.86},{"k":8,"x":0.67,"y":0.8},{"k":8,"x":0.68,"y":0.78},{"k":8,"x":0.69,"y":0.83},{"k":8,"x":0.7,"y":0.81},{"k":8,"x":0.71,"y":0.79},{"k":8,"x":0.72,"y":0.82},{"k":8,"x":0.73,"y":0.79},{"k":8,"x":0.74,"y":0.81},{"k":8,"x":0.75,"y":0.78},{"k":8,"x":0.76,"y":0.8},{"k":8,"x":0.77,"y":0.76},{"k":8,"x":0.78,"y":0.72},{"k":8,"x":0.79,"y":0.66},{"k":8,"x":0.8,"y":0.6},{"k":8,"x":0.81,"y":0.62},{"k":8,"x":0.82,"y":0.56},{"k":8,"x":0.83,"y":0.52},{"k":8,"x":0.84,"y":0.55},{"k":8,"x":0.85,"y":0.5},{"k":8,"x":0.86,"y":0.47},{"k":8,"x":0.87,"y":0.52},{"k":8,"x":0.88,"y":0.55},{"k":8,"x":0.9,"y":0.6},{"k":8,"x":0.92,"y":0.58},{"k":8,"x":0.94,"y":0.6},{"k":8,"x":0.96,"y":0.55},{"k":8,"x":0.98,"y":0.58},{"k":8,"x":1.0,"y":0.52},{"k":8,"x":1.02,"y":0.48},{"k":8,"x":1.03,"y":0.55},{"k":8,"x":1.04,"y":0.5},{"k":8,"x":1.05,"y":0.45},{"k":8,"x":1.06,"y":0.48},{"k":8,"x":1.07,"y":0.44},{"k":8,"x":1.08,"y":0.5},{"k":8,"x":1.1,"y":0.52},{"k":8,"x":1.12,"y":0.48},{"k":8,"x":1.14,"y":0.55},{"k":8,"x":1.16,"y":0.52},{"k":8,"x":1.18,"y":0.58},{"k":8,"x":1.2,"y":0.62},{"k":8,"x":1.22,"y":0.6},{"k":8,"x":1.24,"y":0.66},{"k":8,"x":1.26,"y":0.63},{"k":8,"x":1.28,"y":0.68},{"k":8,"x":1.3,"y":0.7},{"k":8,"x":1.32,"y":0.66},{"k":8,"x":1.34,"y":0.72},{"k":8,"x":1.36,"y":0.7},{"k":8,"x":1.38,"y":0.74},{"k":8,"x":1.4,"y":0.7},{"k":8,"x":1.42,"y":0.72},{"k":8,"x":1.44,"y":0.68},{"k":8,"x":1.46,"y":0.7},{"k":8,"x":1.48,"y":0.65},{"k":8,"x":1.5,"y":0.66},{"k":8,"x":1.51,"y":0.6},{"k":8,"x":1.52,"y":0.57},{"k":8,"x":1.525,"y":0.525},{"k":8,"x":1.53,"y":0.58},{"k":8,"x":1.54,"y":0.515},{"k":8,"x":1.55,"y":0.58},{"k":8,"x":1.56,"y":0.67},{"k":8,"x":1.57,"y":0.72},{"k":8,"x":1.58,"y":0.78},{"k":8,"x":1.6,"y":0.75},{"k":8,"x":1.62,"y":0.82},{"k":8,"x":1.64,"y":0.84},{"k":8,"x":1.66,"y":0.8},{"k":8,"x":1.68,"y":0.86},{"k":8,"x":1.7,"y":0.83},{"k":8,"x":1.72,"y":0.87},{"k":8,"x":1.74,"y":0.85},{"k":8,"x":1.76,"y":0.82},{"k":8,"x":1.78,"y":0.86},{"k":8,"x":1.8,"y":0.82},{"k":8,"x":1.82,"y":0.78},{"k":8,"x":1.84,"y":0.8},{"k":8,"x":1.86,"y":0.76},{"k":8,"x":1.88,"y":0.78},{"k":8,"x":1.9,"y":0.74},{"k":8,"x":1.92,"y":0.76},{"k":8,"x":1.94,"y":0.72},{"k":8,"x":1.96,"y":0.68},{"k":8,"x":1.98,"y":0.65},{"k":8,"x":2.0,"y":0.6},
{"k":9,"x":0,"y":0.5},{"k":9,"x":0.01,"y":0.56},{"k":9,"x":0.02,"y":0.53},{"k":9,"x":0.03,"y":0.58},{"k":9,"x":0.04,"y":0.55},{"k":9,"x":0.05,"y":0.6},{"k":9,"x":0.06,"y":0.56},{"k":9,"x":0.07,"y":0.59},{"k":9,"x":0.08,"y":0.52},{"k":9,"x":0.09,"y":0.46},{"k":9,"x":0.1,"y":0.42},{"k":9,"x":0.11,"y":0.45},{"k":9,"x":0.12,"y":0.5},{"k":9,"x":0.13,"y":0.55},{"k":9,"x":0.14,"y":0.52},{"k":9,"x":0.15,"y":0.57},{"k":9,"x":0.16,"y":0.53},{"k":9,"x":0.17,"y":0.58},{"k":9,"x":0.18,"y":0.62},{"k":9,"x":0.19,"y":0.6},{"k":9,"x":0.2,"y":0.56},{"k":9,"x":0.21,"y":0.52},{"k":9,"x":0.22,"y":0.46},{"k":9,"x":0.23,"y":0.42},{"k":9,"x":0.24,"y":0.4},{"k":9,"x":0.25,"y":0.44},{"k":9,"x":0.26,"y":0.48},{"k":9,"x":0.27,"y":0.52},{"k":9,"x":0.28,"y":0.56},{"k":9,"x":0.29,"y":0.62},{"k":9,"x":0.3,"y":0.66},{"k":9,"x":0.31,"y":0.64},{"k":9,"x":0.32,"y":0.6},{"k":9,"x":0.33,"y":0.55},{"k":9,"x":0.34,"y":0.6},{"k":9,"x":0.35,"y":0.64},{"k":9,"x":0.36,"y":0.62},{"k":9,"x":0.37,"y":0.66},{"k":9,"x":0.38,"y":0.7},{"k":9,"x":0.39,"y":0.68},{"k":9,"x":0.4,"y":0.72},{"k":9,"x":0.41,"y":0.66},{"k":9,"x":0.42,"y":0.6},{"k":9,"x":0.43,"y":0.55},{"k":9,"x":0.44,"y":0.5},{"k":9,"x":0.45,"y":0.52},{"k":9,"x":0.46,"y":0.48},{"k":9,"x":0.47,"y":0.5},{"k":9,"x":0.48,"y":0.55},{"k":9,"x":0.49,"y":0.52},{"k":9,"x":0.5,"y":0.56},{"k":9,"x":0.51,"y":0.6},{"k":9,"x":0.52,"y":0.57},{"k":9,"x":0.53,"y":0.52},{"k":9,"x":0.54,"y":0.48},{"k":9,"x":0.55,"y":0.44},{"k":9,"x":0.56,"y":0.4},{"k":9,"x":0.57,"y":0.45},{"k":9,"x":0.58,"y":0.5},{"k":9,"x":0.6,"y":0.52},{"k":9,"x":0.62,"y":0.46},{"k":9,"x":0.64,"y":0.42},{"k":9,"x":0.66,"y":0.37},{"k":9,"x":0.67,"y":0.42},{"k":9,"x":0.68,"y":0.48},{"k":9,"x":0.7,"y":0.52},{"k":9,"x":0.72,"y":0.58},{"k":9,"x":0.74,"y":0.62},{"k":9,"x":0.76,"y":0.64},{"k":9,"x":0.78,"y":0.68},{"k":9,"x":0.79,"y":0.7},{"k":9,"x":0.8,"y":0.68},{"k":9,"x":0.82,"y":0.74},{"k":9,"x":0.835,"y":0.77},{"k":9,"x":0.845,"y":0.73},{"k":9,"x":0.86,"y":0.72},{"k":9,"x":0.87,"y":0.66},{"k":9,"x":0.88,"y":0.62},{"k":9,"x":0.9,"y":0.68},{"k":9,"x":0.91,"y":0.76},{"k":9,"x":0.92,"y":0.79},{"k":9,"x":0.93,"y":0.74},{"k":9,"x":0.945,"y":0.8},{"k":9,"x":0.96,"y":0.76},{"k":9,"x":0.975,"y":0.72},{"k":9,"x":0.985,"y":0.68},{"k":9,"x":0.995,"y":0.75},{"k":9,"x":1.005,"y":0.82},{"k":9,"x":1.015,"y":0.88},{"k":9,"x":1.03,"y":0.836},{"k":9,"x":1.045,"y":0.76},{"k":9,"x":1.055,"y":0.8},{"k":9,"x":1.065,"y":0.86},{"k":9,"x":1.07,"y":0.92},{"k":9,"x":1.08,"y":0.88},{"k":9,"x":1.085,"y":0.83},{"k":9,"x":1.095,"y":0.76},{"k":9,"x":1.1,"y":0.72},{"k":9,"x":1.11,"y":0.74},{"k":9,"x":1.12,"y":0.7},{"k":9,"x":1.13,"y":0.72},{"k":9,"x":1.145,"y":0.68},{"k":9,"x":1.155,"y":0.66},{"k":9,"x":1.165,"y":0.64},{"k":9,"x":1.175,"y":0.6},{"k":9,"x":1.185,"y":0.63},{"k":9,"x":1.195,"y":0.58},{"k":9,"x":1.205,"y":0.6},{"k":9,"x":1.215,"y":0.56},{"k":9,"x":1.225,"y":0.6},{"k":9,"x":1.23,"y":0.64},{"k":9,"x":1.24,"y":0.58},{"k":9,"x":1.25,"y":0.5},{"k":9,"x":1.26,"y":0.46},{"k":9,"x":1.27,"y":0.52},{"k":9,"x":1.28,"y":0.5},{"k":9,"x":1.29,"y":0.49},{"k":9,"x":1.3,"y":0.55},{"k":9,"x":1.31,"y":0.58},{"k":9,"x":1.32,"y":0.52},{"k":9,"x":1.33,"y":0.6},{"k":9,"x":1.34,"y":0.62},{"k":9,"x":1.35,"y":0.6},{"k":9,"x":1.36,"y":0.68},{"k":9,"x":1.37,"y":0.78},{"k":9,"x":1.38,"y":0.84},{"k":9,"x":1.4,"y":0.836},{"k":9,"x":1.42,"y":0.82},{"k":9,"x":1.44,"y":0.78},{"k":9,"x":1.45,"y":0.74},{"k":9,"x":1.46,"y":0.77},{"k":9,"x":1.48,"y":0.84},{"k":9,"x":1.5,"y":0.82},{"k":9,"x":1.51,"y":0.78},{"k":9,"x":1.52,"y":0.8},{"k":9,"x":1.54,"y":0.76},{"k":9,"x":1.56,"y":0.8},{"k":9,"x":1.58,"y":0.84},{"k":9,"x":1.6,"y":0.87},{"k":9,"x":1.62,"y":0.9},{"k":9,"x":1.64,"y":0.92},{"k":9,"x":1.66,"y":0.88},{"k":9,"x":1.68,"y":0.84},{"k":9,"x":1.7,"y":0.86},{"k":9,"x":1.72,"y":0.82},{"k":9,"x":1.74,"y":0.78},{"k":9,"x":1.76,"y":0.74},{"k":9,"x":1.78,"y":0.7},{"k":9,"x":1.8,"y":0.72},{"k":9,"x":1.82,"y":0.66},{"k":9,"x":1.84,"y":0.65},{"k":9,"x":1.85,"y":0.72},{"k":9,"x":1.86,"y":0.8},{"k":9,"x":1.87,"y":0.84},{"k":9,"x":1.88,"y":0.78},{"k":9,"x":1.9,"y":0.74},{"k":9,"x":1.92,"y":0.78},{"k":9,"x":1.94,"y":0.72},{"k":9,"x":1.96,"y":0.68},{"k":9,"x":1.97,"y":0.62},{"k":9,"x":1.98,"y":0.7},{"k":9,"x":1.99,"y":0.81},{"k":9,"x":2.0,"y":0.75},
{"k":10,"x":0,"y":0.5},{"k":10,"x":0.01,"y":0.47},{"k":10,"x":0.02,"y":0.52},{"k":10,"x":0.03,"y":0.45},{"k":10,"x":0.04,"y":0.42},{"k":10,"x":0.05,"y":0.46},{"k":10,"x":0.06,"y":0.4},{"k":10,"x":0.07,"y":0.36},{"k":10,"x":0.08,"y":0.42},{"k":10,"x":0.09,"y":0.45},{"k":10,"x":0.1,"y":0.4},{"k":10,"x":0.11,"y":0.44},{"k":10,"x":0.12,"y":0.47},{"k":10,"x":0.13,"y":0.42},{"k":10,"x":0.14,"y":0.44},{"k":10,"x":0.15,"y":0.38},{"k":10,"x":0.16,"y":0.36},{"k":10,"x":0.17,"y":0.33},{"k":10,"x":0.18,"y":0.35},{"k":10,"x":0.19,"y":0.3},{"k":10,"x":0.2,"y":0.29},{"k":10,"x":0.205,"y":0.33},{"k":10,"x":0.21,"y":0.26},{"k":10,"x":0.22,"y":0.3},{"k":10,"x":0.23,"y":0.31},{"k":10,"x":0.24,"y":0.285},{"k":10,"x":0.25,"y":0.32},{"k":10,"x":0.26,"y":0.36},{"k":10,"x":0.27,"y":0.33},{"k":10,"x":0.28,"y":0.3},{"k":10,"x":0.29,"y":0.33},{"k":10,"x":0.3,"y":0.31},{"k":10,"x":0.31,"y":0.28},{"k":10,"x":0.32,"y":0.25},{"k":10,"x":0.33,"y":0.29},{"k":10,"x":0.34,"y":0.3},{"k":10,"x":0.35,"y":0.325},{"k":10,"x":0.36,"y":0.3},{"k":10,"x":0.37,"y":0.31},{"k":10,"x":0.38,"y":0.28},{"k":10,"x":0.39,"y":0.3},{"k":10,"x":0.4,"y":0.253},{"k":10,"x":0.407,"y":0.23},{"k":10,"x":0.416,"y":0.171},{"k":10,"x":0.42,"y":0.16},{"k":10,"x":0.427,"y":0.225},{"k":10,"x":0.433,"y":0.2},{"k":10,"x":0.44,"y":0.25},{"k":10,"x":0.447,"y":0.28},{"k":10,"x":0.455,"y":0.308},{"k":10,"x":0.462,"y":0.217},{"k":10,"x":0.47,"y":0.27},{"k":10,"x":0.478,"y":0.24},{"k":10,"x":0.485,"y":0.297},{"k":10,"x":0.5,"y":0.3},{"k":10,"x":0.515,"y":0.305},{"k":10,"x":0.52,"y":0.27},{"k":10,"x":0.526,"y":0.208},{"k":10,"x":0.535,"y":0.24},{"k":10,"x":0.544,"y":0.213},{"k":10,"x":0.55,"y":0.2},{"k":10,"x":0.56,"y":0.24},{"k":10,"x":0.57,"y":0.283},{"k":10,"x":0.575,"y":0.24},{"k":10,"x":0.587,"y":0.336},{"k":10,"x":0.595,"y":0.38},{"k":10,"x":0.605,"y":0.35},{"k":10,"x":0.615,"y":0.4},{"k":10,"x":0.625,"y":0.38},{"k":10,"x":0.635,"y":0.45},{"k":10,"x":0.645,"y":0.42},{"k":10,"x":0.655,"y":0.46},{"k":10,"x":0.665,"y":0.43},{"k":10,"x":0.675,"y":0.4},{"k":10,"x":0.686,"y":0.39},{"k":10,"x":0.695,"y":0.42},{"k":10,"x":0.705,"y":0.4},{"k":10,"x":0.715,"y":0.44},{"k":10,"x":0.725,"y":0.42},{"k":10,"x":0.735,"y":0.38},{"k":10,"x":0.745,"y":0.36},{"k":10,"x":0.755,"y":0.35},{"k":10,"x":0.765,"y":0.42},{"k":10,"x":0.775,"y":0.44},{"k":10,"x":0.79,"y":0.4},{"k":10,"x":0.805,"y":0.39},{"k":10,"x":0.813,"y":0.447},{"k":10,"x":0.83,"y":0.43},{"k":10,"x":0.838,"y":0.55},{"k":10,"x":0.845,"y":0.513},{"k":10,"x":0.855,"y":0.45},{"k":10,"x":0.865,"y":0.43},{"k":10,"x":0.875,"y":0.5},{"k":10,"x":0.89,"y":0.56},{"k":10,"x":0.9,"y":0.6},{"k":10,"x":0.91,"y":0.55},{"k":10,"x":0.92,"y":0.62},{"k":10,"x":0.93,"y":0.66},{"k":10,"x":0.94,"y":0.7},{"k":10,"x":0.95,"y":0.72},{"k":10,"x":0.96,"y":0.68},{"k":10,"x":0.97,"y":0.64},{"k":10,"x":0.98,"y":0.6},{"k":10,"x":0.99,"y":0.66},{"k":10,"x":1.0,"y":0.62},{"k":10,"x":1.01,"y":0.58},{"k":10,"x":1.02,"y":0.6},{"k":10,"x":1.03,"y":0.56},{"k":10,"x":1.04,"y":0.6},{"k":10,"x":1.05,"y":0.66},{"k":10,"x":1.06,"y":0.7},{"k":10,"x":1.07,"y":0.74},{"k":10,"x":1.08,"y":0.76},{"k":10,"x":1.09,"y":0.72},{"k":10,"x":1.1,"y":0.75},{"k":10,"x":1.11,"y":0.7},{"k":10,"x":1.12,"y":0.72},{"k":10,"x":1.13,"y":0.68},{"k":10,"x":1.14,"y":0.72},{"k":10,"x":1.15,"y":0.7},{"k":10,"x":1.16,"y":0.74},{"k":10,"x":1.17,"y":0.72},{"k":10,"x":1.18,"y":0.76},{"k":10,"x":1.19,"y":0.74},{"k":10,"x":1.2,"y":0.78},{"k":10,"x":1.21,"y":0.75},{"k":10,"x":1.22,"y":0.8},{"k":10,"x":1.23,"y":0.77},{"k":10,"x":1.24,"y":0.8},{"k":10,"x":1.25,"y":0.82},{"k":10,"x":1.26,"y":0.8},{"k":10,"x":1.27,"y":0.84},{"k":10,"x":1.28,"y":0.82},{"k":10,"x":1.29,"y":0.86},{"k":10,"x":1.3,"y":0.88},{"k":10,"x":1.31,"y":0.84},{"k":10,"x":1.32,"y":0.8},{"k":10,"x":1.33,"y":0.82},{"k":10,"x":1.34,"y":0.78},{"k":10,"x":1.35,"y":0.8},{"k":10,"x":1.36,"y":0.84},{"k":10,"x":1.37,"y":0.82},{"k":10,"x":1.38,"y":0.78},{"k":10,"x":1.39,"y":0.8},{"k":10,"x":1.4,"y":0.82},{"k":10,"x":1.41,"y":0.86},{"k":10,"x":1.42,"y":0.9},{"k":10,"x":1.43,"y":0.92},{"k":10,"x":1.44,"y":0.88},{"k":10,"x":1.45,"y":0.9},{"k":10,"x":1.46,"y":0.86},{"k":10,"x":1.47,"y":0.84},{"k":10,"x":1.48,"y":0.8},{"k":10,"x":1.49,"y":0.82},{"k":10,"x":1.5,"y":0.78},{"k":10,"x":1.51,"y":0.74},{"k":10,"x":1.52,"y":0.76},{"k":10,"x":1.53,"y":0.7},{"k":10,"x":1.54,"y":0.66},{"k":10,"x":1.55,"y":0.7},{"k":10,"x":1.56,"y":0.74},{"k":10,"x":1.57,"y":0.72},{"k":10,"x":1.58,"y":0.78},{"k":10,"x":1.59,"y":0.8},{"k":10,"x":1.6,"y":0.82},{"k":10,"x":1.62,"y":0.86},{"k":10,"x":1.63,"y":0.92},{"k":10,"x":1.64,"y":0.88},{"k":10,"x":1.66,"y":0.84},{"k":10,"x":1.68,"y":0.82},{"k":10,"x":1.7,"y":0.78},{"k":10,"x":1.72,"y":0.74},{"k":10,"x":1.74,"y":0.76},{"k":10,"x":1.76,"y":0.72},{"k":10,"x":1.78,"y":0.7},{"k":10,"x":1.8,"y":0.76},{"k":10,"x":1.82,"y":0.72},{"k":10,"x":1.84,"y":0.78},{"k":10,"x":1.86,"y":0.76},{"k":10,"x":1.88,"y":0.8},{"k":10,"x":1.9,"y":0.78},{"k":10,"x":1.92,"y":0.84},{"k":10,"x":1.94,"y":0.8},{"k":10,"x":1.96,"y":0.72},{"k":10,"x":1.98,"y":0.66},{"k":10,"x":2.0,"y":0.65}
]},
"data":{"name":"walks"},
"layer":[
{"mark":{"type":"line","strokeWidth":2,"clip":true},
 "encoding":{
  "x":{"field":"x","type":"quantitative","scale":{"domain":[0,2],"nice":false,"zero":false},
       "axis":{"orient":"bottom","values":[0,0.2,0.4,0.6,0.8,1,1.2,1.4,1.6,1.8,2],"format":".1~f","title":null,"grid":false,"domain":false,"tickSize":-15,"tickWidth":2,"tickColor":"#262626","labelFont":"Liberation Sans","labelFontSize":44,"labelColor":"#262626","labelPadding":42,"labelFlush":false,"labelOverlap":false}},
  "y":{"field":"y","type":"quantitative","scale":{"domain":[0,1],"nice":false,"zero":false},
       "axis":{"orient":"left","values":[0,0.1,0.2,0.3,0.4,0.5,0.6,0.7,0.8,0.9,1],"format":".1~f","title":null,"grid":false,"domain":false,"tickSize":-15,"tickWidth":2,"tickColor":"#262626","labelFont":"Liberation Sans","labelFontSize":44,"labelColor":"#262626","labelPadding":36,"labelFlush":false,"labelOverlap":false}},
  "color":{"field":"k","type":"nominal","scale":{"domain":[1,2,3,4,5,6,7,8,9,10],"range":["#0072BD","#D95319","#EDB120","#7E2F8E","#77AC30","#4DBEEE","#A2142F","#0072BD","#D95319","#EDB120"]},"legend":null}
 }},
{"mark":{"type":"line","opacity":0},
 "encoding":{
  "x":{"field":"x","type":"quantitative","scale":{"domain":[0,2],"nice":false,"zero":false},
       "axis":{"orient":"top","values":[0,0.2,0.4,0.6,0.8,1,1.2,1.4,1.6,1.8,2],"labels":false,"title":null,"grid":false,"domain":false,"tickSize":-15,"tickWidth":2,"tickColor":"#262626"}},
  "y":{"field":"y","type":"quantitative","scale":{"domain":[0,1],"nice":false,"zero":false},
       "axis":{"orient":"right","values":[0,0.1,0.2,0.3,0.4,0.5,0.6,0.7,0.8,0.9,1],"labels":false,"title":null,"grid":false,"domain":false,"tickSize":-15,"tickWidth":2,"tickColor":"#262626"}},
  "detail":{"field":"k","type":"nominal"}
 }}
],
"resolve":{"axis":{"x":"independent","y":"independent"}}
}
